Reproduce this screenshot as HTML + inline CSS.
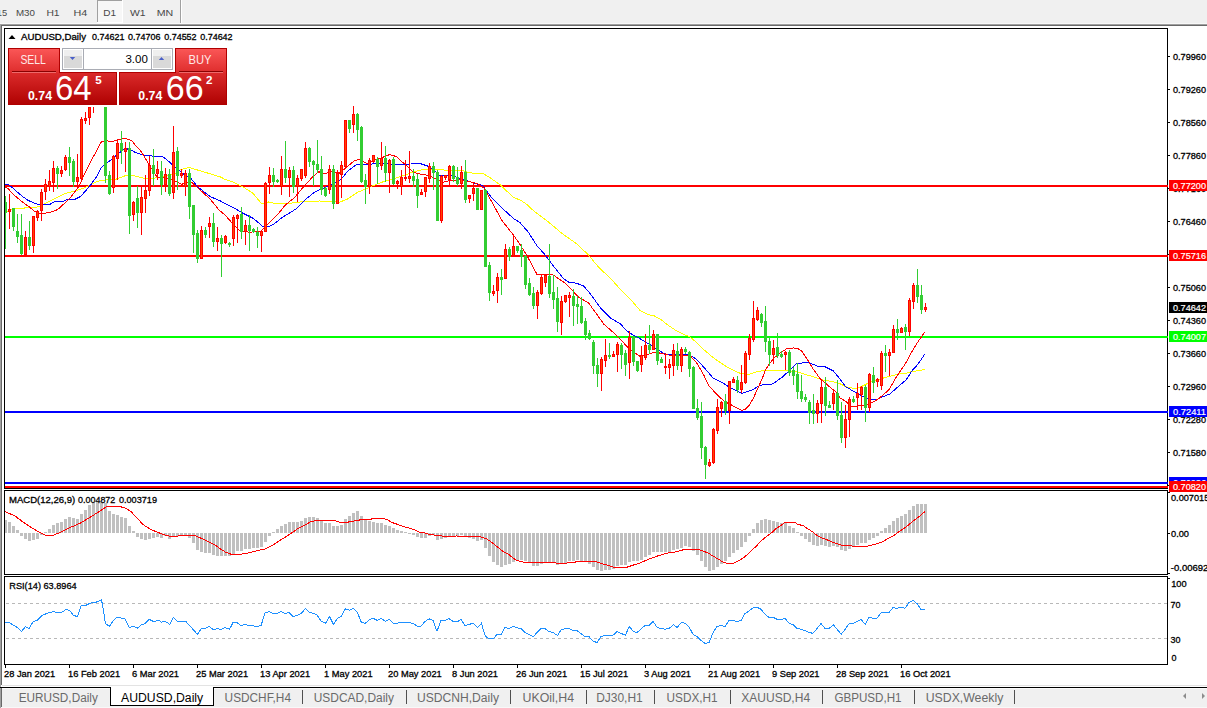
<!DOCTYPE html><html><head><meta charset="utf-8"><title>AUDUSD,Daily</title>
<style>html,body{margin:0;padding:0;width:1207px;height:708px;overflow:hidden;background:#fff}svg{display:block} text{font-family:'Liberation Sans', 'DejaVu Sans', sans-serif;}</style></head><body>
<svg width="1207" height="708" viewBox="0 0 1207 708">
<defs><linearGradient id="gtab" x1="0" y1="0" x2="0" y2="1"><stop offset="0" stop-color="#fa5656"/><stop offset="1" stop-color="#de2c2c"/></linearGradient><linearGradient id="gbox" x1="0" y1="0" x2="0" y2="1"><stop offset="0" stop-color="#da2a2a"/><stop offset="1" stop-color="#b00202"/></linearGradient><linearGradient id="gbtn" x1="0" y1="0" x2="0" y2="1"><stop offset="0" stop-color="#f4f4f4"/><stop offset="0.5" stop-color="#e8e8e8"/><stop offset="0.55" stop-color="#dcdcdc"/><stop offset="1" stop-color="#d4d4d4"/></linearGradient></defs>
<rect x="0" y="0" width="1207" height="23" fill="#f0f0f0"/>
<rect x="0" y="23" width="1207" height="1" fill="#f8f8f8"/>
<rect x="0" y="24" width="1207" height="1" fill="#a0a0a0"/>
<rect x="1" y="25" width="1206" height="1" fill="#696969"/>
<rect x="0" y="24" width="1" height="684" fill="#a0a0a0"/>
<rect x="1" y="25" width="1" height="660" fill="#696969"/>
<rect x="2" y="685" width="1205" height="1" fill="#e3e3e3"/>
<rect x="0" y="687" width="1207" height="1" fill="#000"/>
<rect x="1" y="688" width="1206" height="1" fill="#fbfbfb"/>
<rect x="1" y="689" width="1206" height="18" fill="#f0f0f0"/>
<rect x="1" y="707" width="1206" height="1" fill="#f8f8f8"/>
<rect x="1" y="688" width="1" height="19" fill="#696969"/>
<rect x="97" y="0" width="26" height="23" fill="#f7f7f7"/>
<rect x="97" y="0" width="26" height="1" fill="#a0a0a0"/>
<rect x="97" y="0" width="1" height="22" fill="#a0a0a0"/>
<rect x="122" y="0" width="1" height="23" fill="#ffffff"/>
<rect x="97" y="22" width="26" height="1" fill="#ffffff"/>
<rect x="180" y="0" width="1" height="23" fill="#a0a0a0"/>
<rect x="181" y="0" width="1" height="23" fill="#ffffff"/>
<text x="-3.2" y="16" font-size="9.8" fill="#484848" textLength="10.4" lengthAdjust="spacingAndGlyphs">15</text>
<text x="15.9" y="16" font-size="9.8" fill="#484848" textLength="19" lengthAdjust="spacingAndGlyphs">M30</text>
<text x="46.4" y="16" font-size="9.8" fill="#484848" textLength="13.2" lengthAdjust="spacingAndGlyphs">H1</text>
<text x="73.5" y="16" font-size="9.8" fill="#484848" textLength="13.8" lengthAdjust="spacingAndGlyphs">H4</text>
<text x="103.2" y="16" font-size="9.8" fill="#484848" textLength="12.8" lengthAdjust="spacingAndGlyphs">D1</text>
<text x="130" y="16" font-size="9.8" fill="#484848" textLength="15.6" lengthAdjust="spacingAndGlyphs">W1</text>
<text x="156.7" y="16" font-size="9.8" fill="#484848" textLength="16.5" lengthAdjust="spacingAndGlyphs">MN</text>
<rect x="4" y="28" width="1164" height="1" fill="#000"/>
<rect x="4" y="488" width="1164" height="1" fill="#000"/>
<rect x="4" y="28" width="1" height="461" fill="#000"/>
<rect x="1167" y="28" width="1" height="461" fill="#000"/>
<rect x="4" y="490" width="1164" height="1" fill="#000"/>
<rect x="4" y="574" width="1164" height="1" fill="#000"/>
<rect x="4" y="490" width="1" height="85" fill="#000"/>
<rect x="1167" y="490" width="1" height="85" fill="#000"/>
<rect x="4" y="576" width="1164" height="1" fill="#000"/>
<rect x="4" y="664" width="1164" height="1" fill="#000"/>
<rect x="4" y="576" width="1" height="89" fill="#000"/>
<rect x="1167" y="576" width="1" height="89" fill="#000"/>
<rect x="1168" y="56" width="2" height="1" fill="#000"/>
<text x="1173" y="60" font-size="9.4" fill="#000" textLength="33" lengthAdjust="spacingAndGlyphs" stroke="#000" stroke-width="0.3">0.79960</text>
<rect x="1168" y="89" width="2" height="1" fill="#000"/>
<text x="1173" y="93" font-size="9.4" fill="#000" textLength="33" lengthAdjust="spacingAndGlyphs" stroke="#000" stroke-width="0.3">0.79260</text>
<rect x="1168" y="122" width="2" height="1" fill="#000"/>
<text x="1173" y="126" font-size="9.4" fill="#000" textLength="33" lengthAdjust="spacingAndGlyphs" stroke="#000" stroke-width="0.3">0.78560</text>
<rect x="1168" y="155" width="2" height="1" fill="#000"/>
<text x="1173" y="159" font-size="9.4" fill="#000" textLength="33" lengthAdjust="spacingAndGlyphs" stroke="#000" stroke-width="0.3">0.77860</text>
<rect x="1168" y="188" width="2" height="1" fill="#000"/>
<text x="1173" y="192" font-size="9.4" fill="#000" textLength="33" lengthAdjust="spacingAndGlyphs" stroke="#000" stroke-width="0.3">0.77160</text>
<rect x="1168" y="221" width="2" height="1" fill="#000"/>
<text x="1173" y="225" font-size="9.4" fill="#000" textLength="33" lengthAdjust="spacingAndGlyphs" stroke="#000" stroke-width="0.3">0.76460</text>
<rect x="1168" y="254" width="2" height="1" fill="#000"/>
<text x="1173" y="258" font-size="9.4" fill="#000" textLength="33" lengthAdjust="spacingAndGlyphs" stroke="#000" stroke-width="0.3">0.75760</text>
<rect x="1168" y="287" width="2" height="1" fill="#000"/>
<text x="1173" y="291" font-size="9.4" fill="#000" textLength="33" lengthAdjust="spacingAndGlyphs" stroke="#000" stroke-width="0.3">0.75060</text>
<rect x="1168" y="320" width="2" height="1" fill="#000"/>
<text x="1173" y="324" font-size="9.4" fill="#000" textLength="33" lengthAdjust="spacingAndGlyphs" stroke="#000" stroke-width="0.3">0.74360</text>
<rect x="1168" y="353" width="2" height="1" fill="#000"/>
<text x="1173" y="357" font-size="9.4" fill="#000" textLength="33" lengthAdjust="spacingAndGlyphs" stroke="#000" stroke-width="0.3">0.73660</text>
<rect x="1168" y="386" width="2" height="1" fill="#000"/>
<text x="1173" y="390" font-size="9.4" fill="#000" textLength="33" lengthAdjust="spacingAndGlyphs" stroke="#000" stroke-width="0.3">0.72960</text>
<rect x="1168" y="419" width="2" height="1" fill="#000"/>
<text x="1173" y="423" font-size="9.4" fill="#000" textLength="33" lengthAdjust="spacingAndGlyphs" stroke="#000" stroke-width="0.3">0.72280</text>
<rect x="1168" y="452" width="2" height="1" fill="#000"/>
<text x="1173" y="456" font-size="9.4" fill="#000" textLength="33" lengthAdjust="spacingAndGlyphs" stroke="#000" stroke-width="0.3">0.71580</text>
<rect x="1168" y="485" width="2" height="1" fill="#000"/>
<defs><clipPath id="cmain"><rect x="5" y="29" width="1163" height="459"/></clipPath><clipPath id="cmacd"><rect x="5" y="491" width="1162" height="83"/></clipPath><clipPath id="crsi"><rect x="5" y="577" width="1162" height="87"/></clipPath></defs>
<g clip-path="url(#cmain)">
<rect x="5" y="185" width="1163" height="2" fill="#ff0000"/>
<rect x="5" y="255" width="1163" height="2" fill="#ff0000"/>
<rect x="5" y="336" width="1163" height="2" fill="#00ff00"/>
<rect x="5" y="411" width="1163" height="2" fill="#0000ff"/>
<rect x="5" y="482" width="1163" height="2" fill="#0000ff"/>
<rect x="5" y="486" width="1163" height="2" fill="#ff0000"/>
<g shape-rendering="crispEdges">
<polyline points="6.0,212.4 9.2,210.6 14.1,209.2 19.8,208.2 29.6,207.8 36.7,207.1 40.2,206.0 45.9,203.2 50.8,200.8 55.0,198.4 64.9,193.5 74.8,191.0 82.7,188.5 87.7,186.0 94.6,182.6 100.5,180.6 110.4,179.6 115.0,179.6 125.6,175.6 135.0,176.0 145.0,178.6 160.0,177.7 177.4,172.6 180.0,170.0 188.8,167.4 206.5,172.7 220.6,177.0 225.0,179.4 234.3,182.5 243.6,187.2 253.0,193.4 261.5,203.5 268.5,202.0 275.0,203.5 284.6,204.0 296.0,202.5 307.3,201.2 320.0,201.0 331.2,201.5 339.4,202.3 347.5,199.0 357.2,192.5 365.0,189.3 371.3,186.3 382.6,182.0 394.0,178.6 405.0,175.2 413.5,171.7 423.4,169.5 433.2,169.5 450.0,170.3 462.7,170.6 468.4,172.7 484.0,174.0 491.0,178.4 500.0,184.7 502.0,186.7 514.0,197.7 520.0,199.9 525.6,203.4 534.1,211.2 548.2,221.8 562.4,233.8 576.5,243.7 587.8,254.3 599.1,267.7 610.4,278.3 620.0,288.9 631.2,300.0 640.0,310.5 648.5,314.7 654.1,315.8 661.2,319.7 668.2,325.3 676.7,331.0 682.4,333.8 689.4,336.6 696.5,342.3 705.0,350.7 713.4,357.8 724.7,365.6 733.6,370.4 740.6,373.5 749.2,374.3 757.7,371.6 765.0,370.4 775.0,370.3 787.7,370.5 799.0,372.4 810.3,375.9 825.0,380.8 830.7,381.1 840.0,383.8 846.8,387.2 854.9,388.5 860.2,387.2 866.9,383.8 871.0,381.2 882.8,378.2 895.0,375.0 899.2,373.8 906.0,373.2 912.0,371.5 918.7,370.7 924.7,369.3" fill="none" stroke="#ffff00" stroke-width="1"/>
<polyline points="5.0,184.2 7.8,184.2 12.0,187.3 16.2,191.2 22.6,196.5 28.2,200.4 33.9,202.9 38.1,204.6 43.0,204.6 49.4,204.6 53.6,202.2 55.0,201.4 62.9,201.4 67.9,199.4 74.8,199.4 80.7,196.4 87.7,188.5 91.6,183.6 96.6,176.6 100.5,168.7 104.5,164.8 108.5,161.8 112.4,158.8 117.7,154.0 125.6,148.4 131.5,150.3 135.0,152.3 141.8,154.8 152.0,156.0 162.0,156.0 169.0,161.6 177.4,169.2 184.0,174.3 190.6,178.0 197.7,186.8 210.0,196.5 220.6,201.0 225.0,203.5 234.3,208.0 243.6,213.6 253.0,218.2 262.3,226.0 270.0,226.0 273.2,224.4 283.0,217.0 296.0,209.0 305.7,199.3 313.8,192.8 320.0,189.5 323.0,188.5 331.2,184.4 341.0,179.5 347.5,171.4 357.2,164.0 367.0,165.0 374.0,163.7 388.0,163.7 399.5,165.0 410.6,164.0 419.0,163.2 427.6,166.0 434.7,171.0 440.3,176.0 447.4,175.2 455.0,176.6 461.3,179.0 472.6,182.6 482.5,185.4 491.0,196.7 500.0,206.0 503.7,209.6 514.0,219.0 520.0,222.5 528.5,232.4 537.0,245.8 544.0,253.6 552.5,264.9 563.8,279.0 569.4,282.5 576.5,283.2 583.6,286.0 590.3,293.7 600.5,308.0 610.7,318.3 620.6,324.0 626.3,330.4 633.4,335.3 640.0,338.7 648.5,343.7 657.0,349.3 664.0,353.6 671.0,355.0 682.4,354.5 689.4,355.0 696.5,359.2 703.6,367.0 713.4,378.3 722.0,382.5 727.6,386.0 730.5,387.9 736.7,390.6 741.8,393.3 746.0,392.0 752.3,389.8 758.5,386.3 765.0,384.0 772.0,384.0 775.0,382.3 782.0,377.3 789.0,371.0 796.2,363.9 804.7,362.5 810.3,363.2 817.4,366.0 825.0,366.7 833.4,371.0 840.0,379.0 845.5,386.5 852.2,390.5 860.2,395.2 865.6,397.9 871.0,399.8 876.8,399.8 882.8,396.8 890.2,393.8 897.6,387.2 906.0,380.0 912.0,370.8 916.2,366.2 920.4,360.7 924.7,354.3" fill="none" stroke="#0000ff" stroke-width="1"/>
<polyline points="5.0,186.6 8.5,189.1 14.1,195.1 22.6,202.2 29.6,207.1 34.6,211.3 39.5,213.5 43.8,213.5 49.4,212.4 53.6,211.3 58.0,209.3 69.9,198.4 78.8,186.5 84.7,173.7 91.6,159.8 96.6,150.9 101.5,141.5 106.5,140.5 110.4,142.0 116.0,140.5 124.0,138.0 131.5,140.5 135.0,144.7 141.8,152.3 148.6,164.0 157.0,176.9 169.0,178.6 177.4,182.0 181.6,184.5 185.3,182.4 190.6,181.5 197.7,187.7 210.0,199.0 218.9,209.8 225.0,215.0 231.2,222.0 240.5,231.4 249.8,232.2 260.7,231.4 267.0,225.2 270.0,222.0 278.0,214.0 285.4,205.0 294.4,197.7 304.0,186.3 312.2,177.4 318.7,171.7 324.7,173.9 331.2,171.4 339.4,173.0 347.5,166.6 354.0,160.9 358.8,159.3 367.0,163.7 374.0,160.2 382.6,157.4 389.7,154.5 396.7,156.7 402.4,162.3 405.0,164.0 413.5,172.4 419.0,173.8 427.6,175.2 436.0,178.7 443.0,182.3 448.8,180.8 458.5,179.8 468.4,181.2 478.2,184.0 484.0,188.2 491.9,202.0 502.0,220.6 514.0,235.8 520.0,244.4 527.0,255.7 537.0,274.5 542.6,274.5 552.5,274.5 558.1,278.3 565.2,283.2 570.8,288.9 578.5,297.0 588.6,303.0 595.4,312.4 603.9,324.2 610.7,330.2 618.3,337.0 622.0,341.0 629.0,348.7 636.2,353.7 640.0,356.4 648.5,354.3 654.1,352.1 661.2,353.3 668.2,355.0 682.4,355.3 690.8,356.4 696.5,362.7 703.6,374.7 708.7,385.4 715.5,393.0 719.7,397.2 725.0,401.8 730.5,404.5 736.7,408.0 741.8,410.4 746.0,408.8 750.0,404.2 753.8,397.2 758.5,387.0 763.1,376.2 765.7,369.2 773.5,358.3 780.6,352.6 786.3,349.0 793.4,348.0 797.6,348.4 801.8,351.2 807.5,359.7 813.1,368.8 820.2,378.7 825.4,383.2 830.7,387.8 836.0,391.9 840.0,397.9 845.5,401.2 850.8,406.0 854.9,406.6 860.2,405.7 866.9,404.6 872.5,402.5 878.3,399.0 888.7,390.0 895.0,379.3 899.2,372.5 903.5,366.6 907.7,359.8 912.0,351.4 916.2,344.6 920.4,338.2 924.7,332.3" fill="none" stroke="#ff0000" stroke-width="1"/>
</g>
<g shape-rendering="crispEdges">
<rect x="5" y="196" width="1" height="53" fill="#32cd32"/>
<rect x="4" y="202" width="3" height="11" fill="#32cd32"/>
<rect x="9" y="194" width="1" height="35" fill="#ff0000"/>
<rect x="8" y="209" width="3" height="3" fill="#ff0000"/>
<rect x="9" y="210" width="1" height="1" fill="#ff4500"/>
<rect x="13" y="208" width="1" height="23" fill="#32cd32"/>
<rect x="12" y="208" width="3" height="19" fill="#32cd32"/>
<rect x="17" y="214" width="1" height="29" fill="#32cd32"/>
<rect x="16" y="231" width="3" height="6" fill="#32cd32"/>
<rect x="21" y="214" width="1" height="41" fill="#32cd32"/>
<rect x="20" y="235" width="3" height="19" fill="#32cd32"/>
<rect x="25" y="231" width="1" height="25" fill="#ff0000"/>
<rect x="24" y="237" width="3" height="18" fill="#ff0000"/>
<rect x="25" y="238" width="1" height="16" fill="#ff4500"/>
<rect x="29" y="221" width="1" height="29" fill="#32cd32"/>
<rect x="28" y="237" width="3" height="9" fill="#32cd32"/>
<rect x="33" y="216" width="1" height="37" fill="#ff0000"/>
<rect x="32" y="216" width="3" height="30" fill="#ff0000"/>
<rect x="33" y="217" width="1" height="28" fill="#ff4500"/>
<rect x="37" y="210" width="1" height="11" fill="#ff0000"/>
<rect x="36" y="211" width="3" height="7" fill="#ff0000"/>
<rect x="37" y="212" width="1" height="5" fill="#ff4500"/>
<rect x="41" y="189" width="1" height="32" fill="#ff0000"/>
<rect x="40" y="192" width="3" height="19" fill="#ff0000"/>
<rect x="41" y="193" width="1" height="17" fill="#ff4500"/>
<rect x="45" y="179" width="1" height="21" fill="#ff0000"/>
<rect x="44" y="184" width="3" height="8" fill="#ff0000"/>
<rect x="45" y="185" width="1" height="6" fill="#ff4500"/>
<rect x="49" y="170" width="1" height="21" fill="#ff0000"/>
<rect x="48" y="181" width="3" height="6" fill="#ff0000"/>
<rect x="49" y="182" width="1" height="4" fill="#ff4500"/>
<rect x="53" y="161" width="1" height="31" fill="#ff0000"/>
<rect x="52" y="168" width="3" height="15" fill="#ff0000"/>
<rect x="53" y="169" width="1" height="13" fill="#ff4500"/>
<rect x="57" y="166" width="1" height="23" fill="#32cd32"/>
<rect x="56" y="168" width="3" height="6" fill="#32cd32"/>
<rect x="61" y="166" width="1" height="11" fill="#ff0000"/>
<rect x="60" y="170" width="3" height="4" fill="#ff0000"/>
<rect x="61" y="171" width="1" height="2" fill="#ff4500"/>
<rect x="65" y="155" width="1" height="16" fill="#ff0000"/>
<rect x="64" y="157" width="3" height="13" fill="#ff0000"/>
<rect x="65" y="158" width="1" height="11" fill="#ff4500"/>
<rect x="69" y="147" width="1" height="29" fill="#32cd32"/>
<rect x="68" y="157" width="3" height="6" fill="#32cd32"/>
<rect x="73" y="159" width="1" height="28" fill="#32cd32"/>
<rect x="72" y="161" width="3" height="21" fill="#32cd32"/>
<rect x="77" y="154" width="1" height="33" fill="#ff0000"/>
<rect x="76" y="177" width="3" height="5" fill="#ff0000"/>
<rect x="77" y="178" width="1" height="3" fill="#ff4500"/>
<rect x="81" y="117" width="1" height="63" fill="#ff0000"/>
<rect x="80" y="119" width="3" height="60" fill="#ff0000"/>
<rect x="81" y="120" width="1" height="58" fill="#ff4500"/>
<rect x="85" y="112" width="1" height="12" fill="#ff0000"/>
<rect x="84" y="118" width="3" height="3" fill="#ff0000"/>
<rect x="85" y="119" width="1" height="1" fill="#ff4500"/>
<rect x="89" y="107" width="1" height="18" fill="#ff0000"/>
<rect x="88" y="107" width="3" height="11" fill="#ff0000"/>
<rect x="89" y="108" width="1" height="9" fill="#ff4500"/>
<rect x="93" y="90" width="1" height="23" fill="#ff0000"/>
<rect x="92" y="92" width="3" height="13" fill="#ff0000"/>
<rect x="93" y="93" width="1" height="11" fill="#ff4500"/>
<rect x="97" y="80" width="1" height="21" fill="#ff0000"/>
<rect x="96" y="84" width="3" height="15" fill="#ff0000"/>
<rect x="97" y="85" width="1" height="13" fill="#ff4500"/>
<rect x="101" y="78" width="1" height="23" fill="#32cd32"/>
<rect x="100" y="80" width="3" height="17" fill="#32cd32"/>
<rect x="105" y="90" width="1" height="93" fill="#32cd32"/>
<rect x="104" y="92" width="3" height="84" fill="#32cd32"/>
<rect x="109" y="171" width="1" height="24" fill="#32cd32"/>
<rect x="108" y="175" width="3" height="19" fill="#32cd32"/>
<rect x="113" y="155" width="1" height="38" fill="#ff0000"/>
<rect x="112" y="156" width="3" height="32" fill="#ff0000"/>
<rect x="113" y="157" width="1" height="30" fill="#ff4500"/>
<rect x="117" y="141" width="1" height="39" fill="#ff0000"/>
<rect x="116" y="143" width="3" height="16" fill="#ff0000"/>
<rect x="117" y="144" width="1" height="14" fill="#ff4500"/>
<rect x="121" y="131" width="1" height="33" fill="#32cd32"/>
<rect x="120" y="143" width="3" height="8" fill="#32cd32"/>
<rect x="125" y="142" width="1" height="30" fill="#ff0000"/>
<rect x="124" y="148" width="3" height="4" fill="#ff0000"/>
<rect x="125" y="149" width="1" height="2" fill="#ff4500"/>
<rect x="129" y="142" width="1" height="92" fill="#32cd32"/>
<rect x="128" y="148" width="3" height="68" fill="#32cd32"/>
<rect x="133" y="201" width="1" height="20" fill="#ff0000"/>
<rect x="132" y="202" width="3" height="13" fill="#ff0000"/>
<rect x="133" y="203" width="1" height="11" fill="#ff4500"/>
<rect x="137" y="186" width="1" height="42" fill="#32cd32"/>
<rect x="136" y="198" width="3" height="15" fill="#32cd32"/>
<rect x="141" y="187" width="1" height="48" fill="#ff0000"/>
<rect x="140" y="197" width="3" height="16" fill="#ff0000"/>
<rect x="141" y="198" width="1" height="14" fill="#ff4500"/>
<rect x="145" y="175" width="1" height="38" fill="#ff0000"/>
<rect x="144" y="190" width="3" height="9" fill="#ff0000"/>
<rect x="145" y="191" width="1" height="7" fill="#ff4500"/>
<rect x="149" y="156" width="1" height="40" fill="#ff0000"/>
<rect x="148" y="165" width="3" height="26" fill="#ff0000"/>
<rect x="149" y="166" width="1" height="24" fill="#ff4500"/>
<rect x="153" y="149" width="1" height="37" fill="#32cd32"/>
<rect x="152" y="165" width="3" height="9" fill="#32cd32"/>
<rect x="157" y="161" width="1" height="19" fill="#ff0000"/>
<rect x="156" y="169" width="3" height="5" fill="#ff0000"/>
<rect x="157" y="170" width="1" height="3" fill="#ff4500"/>
<rect x="161" y="161" width="1" height="34" fill="#32cd32"/>
<rect x="160" y="171" width="3" height="14" fill="#32cd32"/>
<rect x="165" y="168" width="1" height="24" fill="#ff0000"/>
<rect x="164" y="174" width="3" height="11" fill="#ff0000"/>
<rect x="165" y="175" width="1" height="9" fill="#ff4500"/>
<rect x="169" y="169" width="1" height="27" fill="#32cd32"/>
<rect x="168" y="174" width="3" height="20" fill="#32cd32"/>
<rect x="173" y="126" width="1" height="73" fill="#ff0000"/>
<rect x="172" y="152" width="3" height="41" fill="#ff0000"/>
<rect x="173" y="153" width="1" height="39" fill="#ff4500"/>
<rect x="177" y="147" width="1" height="43" fill="#32cd32"/>
<rect x="176" y="151" width="3" height="25" fill="#32cd32"/>
<rect x="181" y="169" width="1" height="9" fill="#ff0000"/>
<rect x="180" y="173" width="3" height="3" fill="#ff0000"/>
<rect x="181" y="174" width="1" height="1" fill="#ff4500"/>
<rect x="185" y="170" width="1" height="26" fill="#ff0000"/>
<rect x="184" y="173" width="3" height="14" fill="#ff0000"/>
<rect x="185" y="174" width="1" height="12" fill="#ff4500"/>
<rect x="189" y="169" width="1" height="50" fill="#32cd32"/>
<rect x="188" y="173" width="3" height="34" fill="#32cd32"/>
<rect x="193" y="205" width="1" height="48" fill="#32cd32"/>
<rect x="192" y="205" width="3" height="30" fill="#32cd32"/>
<rect x="197" y="230" width="1" height="33" fill="#32cd32"/>
<rect x="196" y="233" width="3" height="26" fill="#32cd32"/>
<rect x="201" y="226" width="1" height="33" fill="#ff0000"/>
<rect x="200" y="230" width="3" height="29" fill="#ff0000"/>
<rect x="201" y="231" width="1" height="27" fill="#ff4500"/>
<rect x="205" y="227" width="1" height="11" fill="#32cd32"/>
<rect x="204" y="230" width="3" height="5" fill="#32cd32"/>
<rect x="209" y="217" width="1" height="21" fill="#ff0000"/>
<rect x="208" y="223" width="3" height="4" fill="#ff0000"/>
<rect x="209" y="224" width="1" height="2" fill="#ff4500"/>
<rect x="213" y="213" width="1" height="34" fill="#32cd32"/>
<rect x="212" y="223" width="3" height="19" fill="#32cd32"/>
<rect x="217" y="227" width="1" height="24" fill="#ff0000"/>
<rect x="216" y="238" width="3" height="4" fill="#ff0000"/>
<rect x="217" y="239" width="1" height="2" fill="#ff4500"/>
<rect x="221" y="235" width="1" height="42" fill="#32cd32"/>
<rect x="220" y="238" width="3" height="6" fill="#32cd32"/>
<rect x="225" y="235" width="1" height="9" fill="#ff0000"/>
<rect x="224" y="236" width="3" height="7" fill="#ff0000"/>
<rect x="225" y="237" width="1" height="5" fill="#ff4500"/>
<rect x="229" y="242" width="1" height="5" fill="#32cd32"/>
<rect x="228" y="243" width="3" height="2" fill="#32cd32"/>
<rect x="233" y="215" width="1" height="31" fill="#ff0000"/>
<rect x="232" y="217" width="3" height="22" fill="#ff0000"/>
<rect x="233" y="218" width="1" height="20" fill="#ff4500"/>
<rect x="237" y="214" width="1" height="29" fill="#ff0000"/>
<rect x="236" y="215" width="3" height="4" fill="#ff0000"/>
<rect x="237" y="216" width="1" height="2" fill="#ff4500"/>
<rect x="241" y="207" width="1" height="32" fill="#32cd32"/>
<rect x="240" y="214" width="3" height="18" fill="#32cd32"/>
<rect x="245" y="220" width="1" height="25" fill="#ff0000"/>
<rect x="244" y="225" width="3" height="7" fill="#ff0000"/>
<rect x="245" y="226" width="1" height="5" fill="#ff4500"/>
<rect x="249" y="215" width="1" height="36" fill="#32cd32"/>
<rect x="248" y="225" width="3" height="6" fill="#32cd32"/>
<rect x="253" y="228" width="1" height="5" fill="#32cd32"/>
<rect x="252" y="229" width="3" height="3" fill="#32cd32"/>
<rect x="257" y="227" width="1" height="21" fill="#32cd32"/>
<rect x="256" y="232" width="3" height="4" fill="#32cd32"/>
<rect x="261" y="230" width="1" height="22" fill="#ff0000"/>
<rect x="260" y="231" width="3" height="5" fill="#ff0000"/>
<rect x="261" y="232" width="1" height="3" fill="#ff4500"/>
<rect x="265" y="182" width="1" height="50" fill="#ff0000"/>
<rect x="264" y="183" width="3" height="49" fill="#ff0000"/>
<rect x="265" y="184" width="1" height="47" fill="#ff4500"/>
<rect x="269" y="167" width="1" height="27" fill="#ff0000"/>
<rect x="268" y="175" width="3" height="8" fill="#ff0000"/>
<rect x="269" y="176" width="1" height="6" fill="#ff4500"/>
<rect x="273" y="168" width="1" height="19" fill="#32cd32"/>
<rect x="272" y="175" width="3" height="7" fill="#32cd32"/>
<rect x="277" y="179" width="1" height="4" fill="#32cd32"/>
<rect x="276" y="180" width="3" height="2" fill="#32cd32"/>
<rect x="281" y="156" width="1" height="39" fill="#ff0000"/>
<rect x="280" y="169" width="3" height="18" fill="#ff0000"/>
<rect x="281" y="170" width="1" height="16" fill="#ff4500"/>
<rect x="285" y="141" width="1" height="42" fill="#32cd32"/>
<rect x="284" y="169" width="3" height="9" fill="#32cd32"/>
<rect x="289" y="167" width="1" height="30" fill="#ff0000"/>
<rect x="288" y="170" width="3" height="8" fill="#ff0000"/>
<rect x="289" y="171" width="1" height="6" fill="#ff4500"/>
<rect x="293" y="166" width="1" height="27" fill="#32cd32"/>
<rect x="292" y="170" width="3" height="17" fill="#32cd32"/>
<rect x="297" y="175" width="1" height="27" fill="#ff0000"/>
<rect x="296" y="178" width="3" height="9" fill="#ff0000"/>
<rect x="297" y="179" width="1" height="7" fill="#ff4500"/>
<rect x="301" y="169" width="1" height="12" fill="#ff0000"/>
<rect x="300" y="169" width="3" height="10" fill="#ff0000"/>
<rect x="301" y="170" width="1" height="8" fill="#ff4500"/>
<rect x="305" y="142" width="1" height="36" fill="#ff0000"/>
<rect x="304" y="148" width="3" height="28" fill="#ff0000"/>
<rect x="305" y="149" width="1" height="26" fill="#ff4500"/>
<rect x="309" y="147" width="1" height="20" fill="#32cd32"/>
<rect x="308" y="148" width="3" height="14" fill="#32cd32"/>
<rect x="313" y="160" width="1" height="26" fill="#32cd32"/>
<rect x="312" y="161" width="3" height="4" fill="#32cd32"/>
<rect x="317" y="140" width="1" height="33" fill="#32cd32"/>
<rect x="316" y="164" width="3" height="6" fill="#32cd32"/>
<rect x="321" y="156" width="1" height="39" fill="#32cd32"/>
<rect x="320" y="169" width="3" height="21" fill="#32cd32"/>
<rect x="325" y="187" width="1" height="10" fill="#32cd32"/>
<rect x="324" y="188" width="3" height="8" fill="#32cd32"/>
<rect x="329" y="165" width="1" height="29" fill="#ff0000"/>
<rect x="328" y="169" width="3" height="21" fill="#ff0000"/>
<rect x="329" y="170" width="1" height="19" fill="#ff4500"/>
<rect x="333" y="165" width="1" height="44" fill="#32cd32"/>
<rect x="332" y="169" width="3" height="35" fill="#32cd32"/>
<rect x="337" y="170" width="1" height="34" fill="#ff0000"/>
<rect x="336" y="173" width="3" height="31" fill="#ff0000"/>
<rect x="337" y="174" width="1" height="29" fill="#ff4500"/>
<rect x="341" y="161" width="1" height="37" fill="#ff0000"/>
<rect x="340" y="165" width="3" height="10" fill="#ff0000"/>
<rect x="341" y="166" width="1" height="8" fill="#ff4500"/>
<rect x="345" y="120" width="1" height="48" fill="#ff0000"/>
<rect x="344" y="120" width="3" height="47" fill="#ff0000"/>
<rect x="345" y="121" width="1" height="45" fill="#ff4500"/>
<rect x="349" y="120" width="1" height="13" fill="#32cd32"/>
<rect x="348" y="120" width="3" height="9" fill="#32cd32"/>
<rect x="353" y="106" width="1" height="27" fill="#ff0000"/>
<rect x="352" y="114" width="3" height="11" fill="#ff0000"/>
<rect x="353" y="115" width="1" height="9" fill="#ff4500"/>
<rect x="357" y="113" width="1" height="28" fill="#32cd32"/>
<rect x="356" y="114" width="3" height="16" fill="#32cd32"/>
<rect x="361" y="126" width="1" height="57" fill="#32cd32"/>
<rect x="360" y="127" width="3" height="55" fill="#32cd32"/>
<rect x="365" y="174" width="1" height="30" fill="#32cd32"/>
<rect x="364" y="180" width="3" height="7" fill="#32cd32"/>
<rect x="369" y="158" width="1" height="36" fill="#ff0000"/>
<rect x="368" y="160" width="3" height="27" fill="#ff0000"/>
<rect x="369" y="161" width="1" height="25" fill="#ff4500"/>
<rect x="373" y="155" width="1" height="8" fill="#ff0000"/>
<rect x="372" y="155" width="3" height="7" fill="#ff0000"/>
<rect x="373" y="156" width="1" height="5" fill="#ff4500"/>
<rect x="377" y="157" width="1" height="27" fill="#32cd32"/>
<rect x="376" y="159" width="3" height="8" fill="#32cd32"/>
<rect x="381" y="142" width="1" height="28" fill="#ff0000"/>
<rect x="380" y="158" width="3" height="8" fill="#ff0000"/>
<rect x="381" y="159" width="1" height="6" fill="#ff4500"/>
<rect x="385" y="146" width="1" height="36" fill="#32cd32"/>
<rect x="384" y="158" width="3" height="15" fill="#32cd32"/>
<rect x="389" y="159" width="1" height="34" fill="#ff0000"/>
<rect x="388" y="160" width="3" height="13" fill="#ff0000"/>
<rect x="389" y="161" width="1" height="11" fill="#ff4500"/>
<rect x="393" y="157" width="1" height="28" fill="#32cd32"/>
<rect x="392" y="159" width="3" height="25" fill="#32cd32"/>
<rect x="397" y="180" width="1" height="9" fill="#ff0000"/>
<rect x="396" y="181" width="3" height="3" fill="#ff0000"/>
<rect x="397" y="182" width="1" height="1" fill="#ff4500"/>
<rect x="401" y="170" width="1" height="25" fill="#ff0000"/>
<rect x="400" y="177" width="3" height="10" fill="#ff0000"/>
<rect x="401" y="178" width="1" height="8" fill="#ff4500"/>
<rect x="405" y="160" width="1" height="21" fill="#ff0000"/>
<rect x="404" y="177" width="3" height="2" fill="#ff0000"/>
<rect x="409" y="151" width="1" height="32" fill="#ff0000"/>
<rect x="408" y="176" width="3" height="3" fill="#ff0000"/>
<rect x="409" y="177" width="1" height="1" fill="#ff4500"/>
<rect x="413" y="169" width="1" height="18" fill="#32cd32"/>
<rect x="412" y="176" width="3" height="5" fill="#32cd32"/>
<rect x="417" y="174" width="1" height="34" fill="#32cd32"/>
<rect x="416" y="179" width="3" height="17" fill="#32cd32"/>
<rect x="421" y="189" width="1" height="6" fill="#ff0000"/>
<rect x="420" y="192" width="3" height="3" fill="#ff0000"/>
<rect x="421" y="193" width="1" height="1" fill="#ff4500"/>
<rect x="425" y="177" width="1" height="20" fill="#ff0000"/>
<rect x="424" y="177" width="3" height="15" fill="#ff0000"/>
<rect x="425" y="178" width="1" height="13" fill="#ff4500"/>
<rect x="429" y="163" width="1" height="20" fill="#ff0000"/>
<rect x="428" y="166" width="3" height="13" fill="#ff0000"/>
<rect x="429" y="167" width="1" height="11" fill="#ff4500"/>
<rect x="433" y="162" width="1" height="28" fill="#32cd32"/>
<rect x="432" y="166" width="3" height="7" fill="#32cd32"/>
<rect x="437" y="170" width="1" height="51" fill="#32cd32"/>
<rect x="436" y="172" width="3" height="49" fill="#32cd32"/>
<rect x="441" y="175" width="1" height="48" fill="#ff0000"/>
<rect x="440" y="176" width="3" height="45" fill="#ff0000"/>
<rect x="441" y="177" width="1" height="43" fill="#ff4500"/>
<rect x="445" y="175" width="1" height="5" fill="#ff0000"/>
<rect x="444" y="175" width="3" height="3" fill="#ff0000"/>
<rect x="445" y="176" width="1" height="1" fill="#ff4500"/>
<rect x="449" y="165" width="1" height="20" fill="#ff0000"/>
<rect x="448" y="166" width="3" height="14" fill="#ff0000"/>
<rect x="449" y="167" width="1" height="12" fill="#ff4500"/>
<rect x="453" y="165" width="1" height="17" fill="#32cd32"/>
<rect x="452" y="166" width="3" height="13" fill="#32cd32"/>
<rect x="457" y="167" width="1" height="19" fill="#32cd32"/>
<rect x="456" y="177" width="3" height="7" fill="#32cd32"/>
<rect x="461" y="166" width="1" height="23" fill="#ff0000"/>
<rect x="460" y="172" width="3" height="12" fill="#ff0000"/>
<rect x="461" y="173" width="1" height="10" fill="#ff4500"/>
<rect x="465" y="160" width="1" height="43" fill="#32cd32"/>
<rect x="464" y="172" width="3" height="28" fill="#32cd32"/>
<rect x="469" y="195" width="1" height="8" fill="#ff0000"/>
<rect x="468" y="195" width="3" height="4" fill="#ff0000"/>
<rect x="469" y="196" width="1" height="2" fill="#ff4500"/>
<rect x="473" y="183" width="1" height="18" fill="#ff0000"/>
<rect x="472" y="188" width="3" height="6" fill="#ff0000"/>
<rect x="473" y="189" width="1" height="4" fill="#ff4500"/>
<rect x="477" y="188" width="1" height="22" fill="#32cd32"/>
<rect x="476" y="188" width="3" height="22" fill="#32cd32"/>
<rect x="481" y="190" width="1" height="20" fill="#ff0000"/>
<rect x="480" y="190" width="3" height="20" fill="#ff0000"/>
<rect x="481" y="191" width="1" height="18" fill="#ff4500"/>
<rect x="485" y="189" width="1" height="78" fill="#32cd32"/>
<rect x="484" y="190" width="3" height="77" fill="#32cd32"/>
<rect x="489" y="262" width="1" height="39" fill="#32cd32"/>
<rect x="488" y="265" width="3" height="28" fill="#32cd32"/>
<rect x="493" y="285" width="1" height="11" fill="#ff0000"/>
<rect x="492" y="291" width="3" height="3" fill="#ff0000"/>
<rect x="493" y="292" width="1" height="1" fill="#ff4500"/>
<rect x="497" y="273" width="1" height="30" fill="#ff0000"/>
<rect x="496" y="277" width="3" height="14" fill="#ff0000"/>
<rect x="497" y="278" width="1" height="12" fill="#ff4500"/>
<rect x="501" y="269" width="1" height="26" fill="#32cd32"/>
<rect x="500" y="277" width="3" height="3" fill="#32cd32"/>
<rect x="505" y="244" width="1" height="35" fill="#ff0000"/>
<rect x="504" y="249" width="3" height="30" fill="#ff0000"/>
<rect x="505" y="250" width="1" height="28" fill="#ff4500"/>
<rect x="509" y="247" width="1" height="14" fill="#32cd32"/>
<rect x="508" y="249" width="3" height="8" fill="#32cd32"/>
<rect x="513" y="236" width="1" height="21" fill="#ff0000"/>
<rect x="512" y="246" width="3" height="10" fill="#ff0000"/>
<rect x="513" y="247" width="1" height="8" fill="#ff4500"/>
<rect x="517" y="246" width="1" height="7" fill="#32cd32"/>
<rect x="516" y="246" width="3" height="5" fill="#32cd32"/>
<rect x="521" y="244" width="1" height="23" fill="#32cd32"/>
<rect x="520" y="250" width="3" height="7" fill="#32cd32"/>
<rect x="525" y="255" width="1" height="34" fill="#32cd32"/>
<rect x="524" y="256" width="3" height="29" fill="#32cd32"/>
<rect x="529" y="278" width="1" height="18" fill="#32cd32"/>
<rect x="528" y="283" width="3" height="12" fill="#32cd32"/>
<rect x="533" y="287" width="1" height="22" fill="#32cd32"/>
<rect x="532" y="293" width="3" height="13" fill="#32cd32"/>
<rect x="537" y="290" width="1" height="29" fill="#ff0000"/>
<rect x="536" y="292" width="3" height="14" fill="#ff0000"/>
<rect x="537" y="293" width="1" height="12" fill="#ff4500"/>
<rect x="541" y="275" width="1" height="20" fill="#ff0000"/>
<rect x="540" y="277" width="3" height="17" fill="#ff0000"/>
<rect x="541" y="278" width="1" height="15" fill="#ff4500"/>
<rect x="545" y="274" width="1" height="13" fill="#ff0000"/>
<rect x="544" y="275" width="3" height="8" fill="#ff0000"/>
<rect x="545" y="276" width="1" height="6" fill="#ff4500"/>
<rect x="549" y="244" width="1" height="54" fill="#32cd32"/>
<rect x="548" y="276" width="3" height="18" fill="#32cd32"/>
<rect x="553" y="275" width="1" height="34" fill="#32cd32"/>
<rect x="552" y="292" width="3" height="8" fill="#32cd32"/>
<rect x="557" y="287" width="1" height="45" fill="#32cd32"/>
<rect x="556" y="298" width="3" height="24" fill="#32cd32"/>
<rect x="561" y="296" width="1" height="39" fill="#ff0000"/>
<rect x="560" y="301" width="3" height="22" fill="#ff0000"/>
<rect x="561" y="302" width="1" height="20" fill="#ff4500"/>
<rect x="565" y="295" width="1" height="8" fill="#ff0000"/>
<rect x="564" y="295" width="3" height="7" fill="#ff0000"/>
<rect x="565" y="296" width="1" height="5" fill="#ff4500"/>
<rect x="569" y="292" width="1" height="25" fill="#ff0000"/>
<rect x="568" y="295" width="3" height="3" fill="#ff0000"/>
<rect x="569" y="296" width="1" height="1" fill="#ff4500"/>
<rect x="573" y="289" width="1" height="37" fill="#32cd32"/>
<rect x="572" y="296" width="3" height="10" fill="#32cd32"/>
<rect x="577" y="296" width="1" height="28" fill="#32cd32"/>
<rect x="576" y="304" width="3" height="3" fill="#32cd32"/>
<rect x="581" y="297" width="1" height="27" fill="#32cd32"/>
<rect x="580" y="306" width="3" height="17" fill="#32cd32"/>
<rect x="585" y="318" width="1" height="22" fill="#32cd32"/>
<rect x="584" y="321" width="3" height="14" fill="#32cd32"/>
<rect x="589" y="330" width="1" height="10" fill="#32cd32"/>
<rect x="588" y="333" width="3" height="6" fill="#32cd32"/>
<rect x="593" y="340" width="1" height="34" fill="#32cd32"/>
<rect x="592" y="342" width="3" height="24" fill="#32cd32"/>
<rect x="597" y="358" width="1" height="29" fill="#32cd32"/>
<rect x="596" y="365" width="3" height="9" fill="#32cd32"/>
<rect x="601" y="357" width="1" height="34" fill="#ff0000"/>
<rect x="600" y="359" width="3" height="15" fill="#ff0000"/>
<rect x="601" y="360" width="1" height="13" fill="#ff4500"/>
<rect x="605" y="339" width="1" height="28" fill="#ff0000"/>
<rect x="604" y="355" width="3" height="6" fill="#ff0000"/>
<rect x="605" y="356" width="1" height="4" fill="#ff4500"/>
<rect x="609" y="343" width="1" height="16" fill="#32cd32"/>
<rect x="608" y="355" width="3" height="2" fill="#32cd32"/>
<rect x="613" y="351" width="1" height="6" fill="#ff0000"/>
<rect x="612" y="354" width="3" height="3" fill="#ff0000"/>
<rect x="613" y="355" width="1" height="1" fill="#ff4500"/>
<rect x="617" y="342" width="1" height="30" fill="#ff0000"/>
<rect x="616" y="344" width="3" height="11" fill="#ff0000"/>
<rect x="617" y="345" width="1" height="9" fill="#ff4500"/>
<rect x="621" y="343" width="1" height="26" fill="#32cd32"/>
<rect x="620" y="345" width="3" height="10" fill="#32cd32"/>
<rect x="625" y="350" width="1" height="26" fill="#32cd32"/>
<rect x="624" y="353" width="3" height="12" fill="#32cd32"/>
<rect x="629" y="331" width="1" height="48" fill="#ff0000"/>
<rect x="628" y="337" width="3" height="26" fill="#ff0000"/>
<rect x="629" y="338" width="1" height="24" fill="#ff4500"/>
<rect x="633" y="336" width="1" height="30" fill="#32cd32"/>
<rect x="632" y="337" width="3" height="25" fill="#32cd32"/>
<rect x="637" y="361" width="1" height="11" fill="#32cd32"/>
<rect x="636" y="361" width="3" height="10" fill="#32cd32"/>
<rect x="641" y="346" width="1" height="26" fill="#ff0000"/>
<rect x="640" y="355" width="3" height="10" fill="#ff0000"/>
<rect x="641" y="356" width="1" height="8" fill="#ff4500"/>
<rect x="645" y="334" width="1" height="26" fill="#ff0000"/>
<rect x="644" y="345" width="3" height="13" fill="#ff0000"/>
<rect x="645" y="346" width="1" height="11" fill="#ff4500"/>
<rect x="649" y="325" width="1" height="29" fill="#32cd32"/>
<rect x="648" y="345" width="3" height="5" fill="#32cd32"/>
<rect x="653" y="330" width="1" height="20" fill="#ff0000"/>
<rect x="652" y="334" width="3" height="16" fill="#ff0000"/>
<rect x="653" y="335" width="1" height="14" fill="#ff4500"/>
<rect x="657" y="334" width="1" height="31" fill="#32cd32"/>
<rect x="656" y="334" width="3" height="27" fill="#32cd32"/>
<rect x="661" y="357" width="1" height="6" fill="#32cd32"/>
<rect x="660" y="359" width="3" height="4" fill="#32cd32"/>
<rect x="665" y="353" width="1" height="21" fill="#ff0000"/>
<rect x="664" y="366" width="3" height="2" fill="#ff0000"/>
<rect x="669" y="359" width="1" height="20" fill="#ff0000"/>
<rect x="668" y="364" width="3" height="4" fill="#ff0000"/>
<rect x="669" y="365" width="1" height="2" fill="#ff4500"/>
<rect x="673" y="344" width="1" height="32" fill="#ff0000"/>
<rect x="672" y="350" width="3" height="16" fill="#ff0000"/>
<rect x="673" y="351" width="1" height="14" fill="#ff4500"/>
<rect x="677" y="343" width="1" height="27" fill="#32cd32"/>
<rect x="676" y="351" width="3" height="15" fill="#32cd32"/>
<rect x="681" y="347" width="1" height="25" fill="#ff0000"/>
<rect x="680" y="349" width="3" height="17" fill="#ff0000"/>
<rect x="681" y="350" width="1" height="15" fill="#ff4500"/>
<rect x="685" y="347" width="1" height="7" fill="#32cd32"/>
<rect x="684" y="349" width="3" height="3" fill="#32cd32"/>
<rect x="689" y="351" width="1" height="26" fill="#32cd32"/>
<rect x="688" y="352" width="3" height="17" fill="#32cd32"/>
<rect x="693" y="366" width="1" height="43" fill="#32cd32"/>
<rect x="692" y="367" width="3" height="42" fill="#32cd32"/>
<rect x="697" y="399" width="1" height="21" fill="#32cd32"/>
<rect x="696" y="408" width="3" height="10" fill="#32cd32"/>
<rect x="701" y="402" width="1" height="57" fill="#32cd32"/>
<rect x="700" y="416" width="3" height="32" fill="#32cd32"/>
<rect x="705" y="446" width="1" height="33" fill="#32cd32"/>
<rect x="704" y="447" width="3" height="18" fill="#32cd32"/>
<rect x="709" y="459" width="1" height="8" fill="#ff0000"/>
<rect x="708" y="462" width="3" height="4" fill="#ff0000"/>
<rect x="709" y="463" width="1" height="2" fill="#ff4500"/>
<rect x="713" y="428" width="1" height="36" fill="#ff0000"/>
<rect x="712" y="429" width="3" height="34" fill="#ff0000"/>
<rect x="713" y="430" width="1" height="32" fill="#ff4500"/>
<rect x="717" y="399" width="1" height="35" fill="#ff0000"/>
<rect x="716" y="407" width="3" height="24" fill="#ff0000"/>
<rect x="717" y="408" width="1" height="22" fill="#ff4500"/>
<rect x="721" y="401" width="1" height="16" fill="#ff0000"/>
<rect x="720" y="402" width="3" height="7" fill="#ff0000"/>
<rect x="721" y="403" width="1" height="5" fill="#ff4500"/>
<rect x="725" y="394" width="1" height="21" fill="#32cd32"/>
<rect x="724" y="401" width="3" height="10" fill="#32cd32"/>
<rect x="729" y="381" width="1" height="43" fill="#ff0000"/>
<rect x="728" y="381" width="3" height="30" fill="#ff0000"/>
<rect x="729" y="382" width="1" height="28" fill="#ff4500"/>
<rect x="733" y="377" width="1" height="6" fill="#ff0000"/>
<rect x="732" y="379" width="3" height="4" fill="#ff0000"/>
<rect x="733" y="380" width="1" height="2" fill="#ff4500"/>
<rect x="737" y="376" width="1" height="17" fill="#32cd32"/>
<rect x="736" y="380" width="3" height="10" fill="#32cd32"/>
<rect x="741" y="365" width="1" height="28" fill="#ff0000"/>
<rect x="740" y="382" width="3" height="8" fill="#ff0000"/>
<rect x="741" y="383" width="1" height="6" fill="#ff4500"/>
<rect x="745" y="351" width="1" height="33" fill="#ff0000"/>
<rect x="744" y="353" width="3" height="30" fill="#ff0000"/>
<rect x="745" y="354" width="1" height="28" fill="#ff4500"/>
<rect x="749" y="334" width="1" height="26" fill="#ff0000"/>
<rect x="748" y="338" width="3" height="17" fill="#ff0000"/>
<rect x="749" y="339" width="1" height="15" fill="#ff4500"/>
<rect x="753" y="301" width="1" height="41" fill="#ff0000"/>
<rect x="752" y="318" width="3" height="22" fill="#ff0000"/>
<rect x="753" y="319" width="1" height="20" fill="#ff4500"/>
<rect x="757" y="307" width="1" height="14" fill="#ff0000"/>
<rect x="756" y="310" width="3" height="10" fill="#ff0000"/>
<rect x="757" y="311" width="1" height="8" fill="#ff4500"/>
<rect x="761" y="313" width="1" height="14" fill="#32cd32"/>
<rect x="760" y="314" width="3" height="9" fill="#32cd32"/>
<rect x="765" y="306" width="1" height="46" fill="#32cd32"/>
<rect x="764" y="321" width="3" height="21" fill="#32cd32"/>
<rect x="769" y="337" width="1" height="29" fill="#32cd32"/>
<rect x="768" y="341" width="3" height="14" fill="#32cd32"/>
<rect x="773" y="340" width="1" height="24" fill="#ff0000"/>
<rect x="772" y="348" width="3" height="7" fill="#ff0000"/>
<rect x="773" y="349" width="1" height="5" fill="#ff4500"/>
<rect x="777" y="333" width="1" height="25" fill="#32cd32"/>
<rect x="776" y="347" width="3" height="9" fill="#32cd32"/>
<rect x="781" y="351" width="1" height="7" fill="#32cd32"/>
<rect x="780" y="354" width="3" height="3" fill="#32cd32"/>
<rect x="785" y="351" width="1" height="19" fill="#ff0000"/>
<rect x="784" y="352" width="3" height="3" fill="#ff0000"/>
<rect x="785" y="353" width="1" height="1" fill="#ff4500"/>
<rect x="789" y="350" width="1" height="26" fill="#32cd32"/>
<rect x="788" y="352" width="3" height="21" fill="#32cd32"/>
<rect x="793" y="367" width="1" height="18" fill="#32cd32"/>
<rect x="792" y="370" width="3" height="6" fill="#32cd32"/>
<rect x="797" y="363" width="1" height="36" fill="#32cd32"/>
<rect x="796" y="374" width="3" height="18" fill="#32cd32"/>
<rect x="801" y="375" width="1" height="27" fill="#32cd32"/>
<rect x="800" y="391" width="3" height="8" fill="#32cd32"/>
<rect x="805" y="394" width="1" height="8" fill="#32cd32"/>
<rect x="804" y="397" width="3" height="3" fill="#32cd32"/>
<rect x="809" y="400" width="1" height="24" fill="#32cd32"/>
<rect x="808" y="402" width="3" height="11" fill="#32cd32"/>
<rect x="813" y="394" width="1" height="30" fill="#32cd32"/>
<rect x="812" y="410" width="3" height="4" fill="#32cd32"/>
<rect x="817" y="400" width="1" height="23" fill="#ff0000"/>
<rect x="816" y="403" width="3" height="11" fill="#ff0000"/>
<rect x="817" y="404" width="1" height="9" fill="#ff4500"/>
<rect x="821" y="379" width="1" height="44" fill="#ff0000"/>
<rect x="820" y="387" width="3" height="17" fill="#ff0000"/>
<rect x="821" y="388" width="1" height="15" fill="#ff4500"/>
<rect x="825" y="377" width="1" height="39" fill="#32cd32"/>
<rect x="824" y="387" width="3" height="19" fill="#32cd32"/>
<rect x="829" y="401" width="1" height="7" fill="#32cd32"/>
<rect x="828" y="405" width="3" height="3" fill="#32cd32"/>
<rect x="833" y="390" width="1" height="20" fill="#ff0000"/>
<rect x="832" y="393" width="3" height="11" fill="#ff0000"/>
<rect x="833" y="394" width="1" height="9" fill="#ff4500"/>
<rect x="837" y="380" width="1" height="40" fill="#32cd32"/>
<rect x="836" y="393" width="3" height="23" fill="#32cd32"/>
<rect x="841" y="402" width="1" height="41" fill="#32cd32"/>
<rect x="840" y="415" width="3" height="23" fill="#32cd32"/>
<rect x="845" y="405" width="1" height="43" fill="#ff0000"/>
<rect x="844" y="419" width="3" height="19" fill="#ff0000"/>
<rect x="845" y="420" width="1" height="17" fill="#ff4500"/>
<rect x="849" y="397" width="1" height="40" fill="#ff0000"/>
<rect x="848" y="399" width="3" height="21" fill="#ff0000"/>
<rect x="849" y="400" width="1" height="19" fill="#ff4500"/>
<rect x="853" y="396" width="1" height="7" fill="#32cd32"/>
<rect x="852" y="399" width="3" height="3" fill="#32cd32"/>
<rect x="857" y="383" width="1" height="27" fill="#ff0000"/>
<rect x="856" y="393" width="3" height="5" fill="#ff0000"/>
<rect x="857" y="394" width="1" height="3" fill="#ff4500"/>
<rect x="861" y="386" width="1" height="24" fill="#ff0000"/>
<rect x="860" y="387" width="3" height="8" fill="#ff0000"/>
<rect x="861" y="388" width="1" height="6" fill="#ff4500"/>
<rect x="865" y="385" width="1" height="37" fill="#32cd32"/>
<rect x="864" y="387" width="3" height="21" fill="#32cd32"/>
<rect x="869" y="373" width="1" height="39" fill="#ff0000"/>
<rect x="868" y="374" width="3" height="34" fill="#ff0000"/>
<rect x="869" y="375" width="1" height="32" fill="#ff4500"/>
<rect x="873" y="367" width="1" height="26" fill="#32cd32"/>
<rect x="872" y="375" width="3" height="8" fill="#32cd32"/>
<rect x="877" y="378" width="1" height="9" fill="#ff0000"/>
<rect x="876" y="379" width="3" height="3" fill="#ff0000"/>
<rect x="877" y="380" width="1" height="1" fill="#ff4500"/>
<rect x="881" y="351" width="1" height="39" fill="#ff0000"/>
<rect x="880" y="353" width="3" height="33" fill="#ff0000"/>
<rect x="881" y="354" width="1" height="31" fill="#ff4500"/>
<rect x="885" y="345" width="1" height="27" fill="#32cd32"/>
<rect x="884" y="353" width="3" height="3" fill="#32cd32"/>
<rect x="889" y="349" width="1" height="27" fill="#ff0000"/>
<rect x="888" y="352" width="3" height="4" fill="#ff0000"/>
<rect x="889" y="353" width="1" height="2" fill="#ff4500"/>
<rect x="893" y="325" width="1" height="28" fill="#ff0000"/>
<rect x="892" y="329" width="3" height="24" fill="#ff0000"/>
<rect x="893" y="330" width="1" height="22" fill="#ff4500"/>
<rect x="897" y="319" width="1" height="21" fill="#32cd32"/>
<rect x="896" y="329" width="3" height="4" fill="#32cd32"/>
<rect x="901" y="327" width="1" height="6" fill="#ff0000"/>
<rect x="900" y="328" width="3" height="5" fill="#ff0000"/>
<rect x="901" y="329" width="1" height="3" fill="#ff4500"/>
<rect x="905" y="324" width="1" height="26" fill="#32cd32"/>
<rect x="904" y="327" width="3" height="5" fill="#32cd32"/>
<rect x="909" y="298" width="1" height="38" fill="#ff0000"/>
<rect x="908" y="300" width="3" height="32" fill="#ff0000"/>
<rect x="909" y="301" width="1" height="30" fill="#ff4500"/>
<rect x="913" y="283" width="1" height="26" fill="#ff0000"/>
<rect x="912" y="285" width="3" height="17" fill="#ff0000"/>
<rect x="913" y="286" width="1" height="15" fill="#ff4500"/>
<rect x="917" y="269" width="1" height="34" fill="#32cd32"/>
<rect x="916" y="285" width="3" height="12" fill="#32cd32"/>
<rect x="921" y="285" width="1" height="29" fill="#32cd32"/>
<rect x="920" y="295" width="3" height="15" fill="#32cd32"/>
<rect x="925" y="303" width="1" height="9" fill="#ff0000"/>
<rect x="924" y="307" width="3" height="3" fill="#ff0000"/>
<rect x="925" y="308" width="1" height="1" fill="#ff4500"/>
</g>
</g>
<rect x="1169" y="180" width="38" height="11" fill="#ff0000"/>
<text x="1173" y="189" font-size="9.8" fill="#fff" textLength="33" lengthAdjust="spacingAndGlyphs" stroke="#fff" stroke-width="0.2">0.77200</text>
<rect x="1169" y="250" width="38" height="11" fill="#ff0000"/>
<text x="1173" y="259" font-size="9.8" fill="#fff" textLength="33" lengthAdjust="spacingAndGlyphs" stroke="#fff" stroke-width="0.2">0.75716</text>
<rect x="1169" y="302" width="38" height="11" fill="#000000"/>
<text x="1173" y="311" font-size="9.8" fill="#fff" textLength="33" lengthAdjust="spacingAndGlyphs" stroke="#fff" stroke-width="0.2">0.74642</text>
<rect x="1169" y="331" width="38" height="11" fill="#00ff00"/>
<text x="1173" y="340" font-size="9.8" fill="#fff" textLength="33" lengthAdjust="spacingAndGlyphs" stroke="#fff" stroke-width="0.2">0.74007</text>
<rect x="1169" y="406" width="38" height="11" fill="#0000ff"/>
<text x="1173" y="415" font-size="9.8" fill="#fff" textLength="33" lengthAdjust="spacingAndGlyphs" stroke="#fff" stroke-width="0.2">0.72411</text>
<rect x="1169" y="477" width="38" height="11" fill="#0000ff"/>
<text x="1173" y="486" font-size="9.8" fill="#fff" textLength="33" lengthAdjust="spacingAndGlyphs" stroke="#fff" stroke-width="0.2">0.70926</text>
<rect x="1169" y="481" width="38" height="11" fill="#ff0000"/>
<text x="1173" y="490" font-size="9.8" fill="#fff" textLength="33" lengthAdjust="spacingAndGlyphs" stroke="#fff" stroke-width="0.2">0.70820</text>
<path d="M8.5,39 L12,35 L15.5,39 Z" fill="#000"/>
<text x="21" y="40" font-size="9.4" fill="#000" textLength="65" lengthAdjust="spacingAndGlyphs" stroke="#000" stroke-width="0.3">AUDUSD,Daily</text>
<text x="92" y="40" font-size="9.4" fill="#000" textLength="32.4" lengthAdjust="spacingAndGlyphs" stroke="#000" stroke-width="0.3">0.74621</text>
<text x="128" y="40" font-size="9.4" fill="#000" textLength="32.4" lengthAdjust="spacingAndGlyphs" stroke="#000" stroke-width="0.3">0.74706</text>
<text x="164.2" y="40" font-size="9.4" fill="#000" textLength="32.4" lengthAdjust="spacingAndGlyphs" stroke="#000" stroke-width="0.3">0.74552</text>
<text x="200.2" y="40" font-size="9.4" fill="#000" textLength="32.4" lengthAdjust="spacingAndGlyphs" stroke="#000" stroke-width="0.3">0.74642</text>
<rect x="6" y="46" width="223" height="61" fill="#ffffff"/>
<rect x="8" y="72" width="109" height="33" fill="#b00000"/>
<rect x="9" y="73" width="107" height="31" fill="url(#gbox)"/>
<rect x="119" y="72" width="108" height="33" fill="#b00000"/>
<rect x="120" y="73" width="106" height="31" fill="url(#gbox)"/>
<rect x="8" y="48" width="52" height="25" fill="#b00000"/>
<rect x="9" y="49" width="50" height="24" fill="url(#gtab)"/>
<rect x="175" y="48" width="52" height="25" fill="#b00000"/>
<rect x="176" y="49" width="50" height="24" fill="url(#gtab)"/>
<rect x="12" y="71" width="44" height="1" fill="#8a0000"/>
<rect x="12" y="72" width="44" height="1" fill="#ee6a6a"/>
<rect x="179" y="71" width="44" height="1" fill="#8a0000"/>
<rect x="179" y="72" width="44" height="1" fill="#ee6a6a"/>
<text x="20.4" y="64" font-size="12.5" fill="#ffe8e8" textLength="25.5" lengthAdjust="spacingAndGlyphs">SELL</text>
<text x="188.5" y="64" font-size="12.5" fill="#ffe8e8" textLength="23" lengthAdjust="spacingAndGlyphs">BUY</text>
<rect x="62" y="48" width="111" height="22" fill="#a9acb4"/>
<rect x="63" y="49" width="109" height="20" fill="#ffffff"/>
<rect x="64" y="50" width="18" height="6" fill="#efefef"/>
<rect x="64" y="56" width="18" height="12" fill="#d9d9d9"/>
<rect x="153" y="50" width="18" height="6" fill="#efefef"/>
<rect x="153" y="56" width="18" height="12" fill="#d9d9d9"/>
<rect x="83" y="49" width="1" height="20" fill="#a9acb4"/>
<rect x="151" y="49" width="1" height="20" fill="#a9acb4"/>
<path d="M69.8,57 L75.2,57 L72.5,60 Z" fill="#4a5fc8"/>
<path d="M158.8,60 L164.2,60 L161.5,57 Z" fill="#4a5fc8"/>
<text x="147.8" y="63" font-size="11.5" fill="#000" text-anchor="end">3.00</text>
<text x="28" y="100" font-size="12.5" fill="#fff" textLength="24" lengthAdjust="spacingAndGlyphs" font-weight="bold">0.74</text>
<text x="55" y="100.2" font-size="34.2" fill="#fff" textLength="36.6" lengthAdjust="spacingAndGlyphs">64</text>
<text x="95.3" y="84" font-size="11.6" fill="#fff" font-weight="bold">5</text>
<text x="138.3" y="100" font-size="12.5" fill="#fff" textLength="24" lengthAdjust="spacingAndGlyphs" font-weight="bold">0.74</text>
<text x="165.8" y="100.2" font-size="34.2" fill="#fff" textLength="37.8" lengthAdjust="spacingAndGlyphs">66</text>
<text x="206" y="84" font-size="11.6" fill="#fff" font-weight="bold">2</text>
<g clip-path="url(#cmacd)" shape-rendering="crispEdges">
<rect x="4" y="520" width="3" height="13" fill="#c0c0c0"/>
<rect x="8" y="522" width="3" height="11" fill="#c0c0c0"/>
<rect x="12" y="526" width="3" height="7" fill="#c0c0c0"/>
<rect x="16" y="530" width="3" height="3" fill="#c0c0c0"/>
<rect x="20" y="533" width="3" height="3" fill="#c0c0c0"/>
<rect x="24" y="533" width="3" height="6" fill="#c0c0c0"/>
<rect x="28" y="533" width="3" height="8" fill="#c0c0c0"/>
<rect x="32" y="533" width="3" height="7" fill="#c0c0c0"/>
<rect x="36" y="533" width="3" height="6" fill="#c0c0c0"/>
<rect x="40" y="533" width="3" height="2" fill="#c0c0c0"/>
<rect x="44" y="532" width="3" height="1" fill="#c0c0c0"/>
<rect x="48" y="529" width="3" height="4" fill="#c0c0c0"/>
<rect x="52" y="525" width="3" height="8" fill="#c0c0c0"/>
<rect x="56" y="523" width="3" height="10" fill="#c0c0c0"/>
<rect x="60" y="522" width="3" height="11" fill="#c0c0c0"/>
<rect x="64" y="519" width="3" height="14" fill="#c0c0c0"/>
<rect x="68" y="517" width="3" height="16" fill="#c0c0c0"/>
<rect x="72" y="518" width="3" height="15" fill="#c0c0c0"/>
<rect x="76" y="519" width="3" height="14" fill="#c0c0c0"/>
<rect x="80" y="514" width="3" height="19" fill="#c0c0c0"/>
<rect x="84" y="510" width="3" height="23" fill="#c0c0c0"/>
<rect x="88" y="505" width="3" height="28" fill="#c0c0c0"/>
<rect x="92" y="502" width="3" height="31" fill="#c0c0c0"/>
<rect x="96" y="501" width="3" height="32" fill="#c0c0c0"/>
<rect x="100" y="502" width="3" height="31" fill="#c0c0c0"/>
<rect x="104" y="503" width="3" height="30" fill="#c0c0c0"/>
<rect x="108" y="511" width="3" height="22" fill="#c0c0c0"/>
<rect x="112" y="514" width="3" height="19" fill="#c0c0c0"/>
<rect x="116" y="515" width="3" height="18" fill="#c0c0c0"/>
<rect x="120" y="517" width="3" height="16" fill="#c0c0c0"/>
<rect x="124" y="518" width="3" height="15" fill="#c0c0c0"/>
<rect x="128" y="526" width="3" height="7" fill="#c0c0c0"/>
<rect x="132" y="531" width="3" height="2" fill="#c0c0c0"/>
<rect x="136" y="533" width="3" height="4" fill="#c0c0c0"/>
<rect x="140" y="533" width="3" height="6" fill="#c0c0c0"/>
<rect x="144" y="533" width="3" height="7" fill="#c0c0c0"/>
<rect x="148" y="533" width="3" height="6" fill="#c0c0c0"/>
<rect x="152" y="533" width="3" height="5" fill="#c0c0c0"/>
<rect x="156" y="533" width="3" height="4" fill="#c0c0c0"/>
<rect x="160" y="533" width="3" height="5" fill="#c0c0c0"/>
<rect x="164" y="533" width="3" height="3" fill="#c0c0c0"/>
<rect x="168" y="533" width="3" height="6" fill="#c0c0c0"/>
<rect x="172" y="533" width="3" height="3" fill="#c0c0c0"/>
<rect x="176" y="533" width="3" height="3" fill="#c0c0c0"/>
<rect x="180" y="533" width="3" height="2" fill="#c0c0c0"/>
<rect x="184" y="533" width="3" height="2" fill="#c0c0c0"/>
<rect x="188" y="533" width="3" height="5" fill="#c0c0c0"/>
<rect x="192" y="533" width="3" height="10" fill="#c0c0c0"/>
<rect x="196" y="533" width="3" height="17" fill="#c0c0c0"/>
<rect x="200" y="533" width="3" height="19" fill="#c0c0c0"/>
<rect x="204" y="533" width="3" height="20" fill="#c0c0c0"/>
<rect x="208" y="533" width="3" height="20" fill="#c0c0c0"/>
<rect x="212" y="533" width="3" height="22" fill="#c0c0c0"/>
<rect x="216" y="533" width="3" height="23" fill="#c0c0c0"/>
<rect x="220" y="533" width="3" height="23" fill="#c0c0c0"/>
<rect x="224" y="533" width="3" height="23" fill="#c0c0c0"/>
<rect x="228" y="533" width="3" height="23" fill="#c0c0c0"/>
<rect x="232" y="533" width="3" height="22" fill="#c0c0c0"/>
<rect x="236" y="533" width="3" height="18" fill="#c0c0c0"/>
<rect x="240" y="533" width="3" height="18" fill="#c0c0c0"/>
<rect x="244" y="533" width="3" height="16" fill="#c0c0c0"/>
<rect x="248" y="533" width="3" height="16" fill="#c0c0c0"/>
<rect x="252" y="533" width="3" height="15" fill="#c0c0c0"/>
<rect x="256" y="533" width="3" height="15" fill="#c0c0c0"/>
<rect x="260" y="533" width="3" height="14" fill="#c0c0c0"/>
<rect x="264" y="533" width="3" height="9" fill="#c0c0c0"/>
<rect x="268" y="533" width="3" height="3" fill="#c0c0c0"/>
<rect x="272" y="532" width="3" height="1" fill="#c0c0c0"/>
<rect x="276" y="529" width="3" height="4" fill="#c0c0c0"/>
<rect x="280" y="526" width="3" height="7" fill="#c0c0c0"/>
<rect x="284" y="524" width="3" height="9" fill="#c0c0c0"/>
<rect x="288" y="522" width="3" height="11" fill="#c0c0c0"/>
<rect x="292" y="522" width="3" height="11" fill="#c0c0c0"/>
<rect x="296" y="522" width="3" height="11" fill="#c0c0c0"/>
<rect x="300" y="521" width="3" height="12" fill="#c0c0c0"/>
<rect x="304" y="518" width="3" height="15" fill="#c0c0c0"/>
<rect x="308" y="517" width="3" height="16" fill="#c0c0c0"/>
<rect x="312" y="517" width="3" height="16" fill="#c0c0c0"/>
<rect x="316" y="518" width="3" height="15" fill="#c0c0c0"/>
<rect x="320" y="521" width="3" height="12" fill="#c0c0c0"/>
<rect x="324" y="523" width="3" height="10" fill="#c0c0c0"/>
<rect x="328" y="523" width="3" height="10" fill="#c0c0c0"/>
<rect x="332" y="526" width="3" height="7" fill="#c0c0c0"/>
<rect x="336" y="526" width="3" height="7" fill="#c0c0c0"/>
<rect x="340" y="525" width="3" height="8" fill="#c0c0c0"/>
<rect x="344" y="519" width="3" height="14" fill="#c0c0c0"/>
<rect x="348" y="516" width="3" height="17" fill="#c0c0c0"/>
<rect x="352" y="513" width="3" height="20" fill="#c0c0c0"/>
<rect x="356" y="511" width="3" height="22" fill="#c0c0c0"/>
<rect x="360" y="516" width="3" height="17" fill="#c0c0c0"/>
<rect x="364" y="520" width="3" height="13" fill="#c0c0c0"/>
<rect x="368" y="521" width="3" height="12" fill="#c0c0c0"/>
<rect x="372" y="522" width="3" height="11" fill="#c0c0c0"/>
<rect x="376" y="523" width="3" height="10" fill="#c0c0c0"/>
<rect x="380" y="523" width="3" height="10" fill="#c0c0c0"/>
<rect x="384" y="525" width="3" height="8" fill="#c0c0c0"/>
<rect x="388" y="526" width="3" height="7" fill="#c0c0c0"/>
<rect x="392" y="528" width="3" height="5" fill="#c0c0c0"/>
<rect x="396" y="530" width="3" height="3" fill="#c0c0c0"/>
<rect x="400" y="531" width="3" height="2" fill="#c0c0c0"/>
<rect x="404" y="532" width="3" height="1" fill="#c0c0c0"/>
<rect x="408" y="533" width="3" height="1" fill="#c0c0c0"/>
<rect x="412" y="533" width="3" height="2" fill="#c0c0c0"/>
<rect x="416" y="533" width="3" height="4" fill="#c0c0c0"/>
<rect x="420" y="533" width="3" height="5" fill="#c0c0c0"/>
<rect x="424" y="533" width="3" height="5" fill="#c0c0c0"/>
<rect x="428" y="533" width="3" height="3" fill="#c0c0c0"/>
<rect x="432" y="533" width="3" height="2" fill="#c0c0c0"/>
<rect x="436" y="533" width="3" height="7" fill="#c0c0c0"/>
<rect x="440" y="533" width="3" height="6" fill="#c0c0c0"/>
<rect x="444" y="533" width="3" height="5" fill="#c0c0c0"/>
<rect x="448" y="533" width="3" height="3" fill="#c0c0c0"/>
<rect x="452" y="533" width="3" height="3" fill="#c0c0c0"/>
<rect x="456" y="533" width="3" height="3" fill="#c0c0c0"/>
<rect x="460" y="533" width="3" height="2" fill="#c0c0c0"/>
<rect x="464" y="533" width="3" height="3" fill="#c0c0c0"/>
<rect x="468" y="533" width="3" height="5" fill="#c0c0c0"/>
<rect x="472" y="533" width="3" height="6" fill="#c0c0c0"/>
<rect x="476" y="533" width="3" height="8" fill="#c0c0c0"/>
<rect x="480" y="533" width="3" height="7" fill="#c0c0c0"/>
<rect x="484" y="533" width="3" height="15" fill="#c0c0c0"/>
<rect x="488" y="533" width="3" height="23" fill="#c0c0c0"/>
<rect x="492" y="533" width="3" height="29" fill="#c0c0c0"/>
<rect x="496" y="533" width="3" height="32" fill="#c0c0c0"/>
<rect x="500" y="533" width="3" height="34" fill="#c0c0c0"/>
<rect x="504" y="533" width="3" height="32" fill="#c0c0c0"/>
<rect x="508" y="533" width="3" height="31" fill="#c0c0c0"/>
<rect x="512" y="533" width="3" height="29" fill="#c0c0c0"/>
<rect x="516" y="533" width="3" height="28" fill="#c0c0c0"/>
<rect x="520" y="533" width="3" height="27" fill="#c0c0c0"/>
<rect x="524" y="533" width="3" height="28" fill="#c0c0c0"/>
<rect x="528" y="533" width="3" height="30" fill="#c0c0c0"/>
<rect x="532" y="533" width="3" height="33" fill="#c0c0c0"/>
<rect x="536" y="533" width="3" height="33" fill="#c0c0c0"/>
<rect x="540" y="533" width="3" height="31" fill="#c0c0c0"/>
<rect x="544" y="533" width="3" height="29" fill="#c0c0c0"/>
<rect x="548" y="533" width="3" height="29" fill="#c0c0c0"/>
<rect x="552" y="533" width="3" height="29" fill="#c0c0c0"/>
<rect x="556" y="533" width="3" height="32" fill="#c0c0c0"/>
<rect x="560" y="533" width="3" height="30" fill="#c0c0c0"/>
<rect x="564" y="533" width="3" height="30" fill="#c0c0c0"/>
<rect x="568" y="533" width="3" height="28" fill="#c0c0c0"/>
<rect x="572" y="533" width="3" height="28" fill="#c0c0c0"/>
<rect x="576" y="533" width="3" height="27" fill="#c0c0c0"/>
<rect x="580" y="533" width="3" height="28" fill="#c0c0c0"/>
<rect x="584" y="533" width="3" height="28" fill="#c0c0c0"/>
<rect x="588" y="533" width="3" height="31" fill="#c0c0c0"/>
<rect x="592" y="533" width="3" height="34" fill="#c0c0c0"/>
<rect x="596" y="533" width="3" height="37" fill="#c0c0c0"/>
<rect x="600" y="533" width="3" height="38" fill="#c0c0c0"/>
<rect x="604" y="533" width="3" height="37" fill="#c0c0c0"/>
<rect x="608" y="533" width="3" height="37" fill="#c0c0c0"/>
<rect x="612" y="533" width="3" height="36" fill="#c0c0c0"/>
<rect x="616" y="533" width="3" height="33" fill="#c0c0c0"/>
<rect x="620" y="533" width="3" height="32" fill="#c0c0c0"/>
<rect x="624" y="533" width="3" height="32" fill="#c0c0c0"/>
<rect x="628" y="533" width="3" height="29" fill="#c0c0c0"/>
<rect x="632" y="533" width="3" height="28" fill="#c0c0c0"/>
<rect x="636" y="533" width="3" height="28" fill="#c0c0c0"/>
<rect x="640" y="533" width="3" height="27" fill="#c0c0c0"/>
<rect x="644" y="533" width="3" height="24" fill="#c0c0c0"/>
<rect x="648" y="533" width="3" height="22" fill="#c0c0c0"/>
<rect x="652" y="533" width="3" height="19" fill="#c0c0c0"/>
<rect x="656" y="533" width="3" height="19" fill="#c0c0c0"/>
<rect x="660" y="533" width="3" height="19" fill="#c0c0c0"/>
<rect x="664" y="533" width="3" height="19" fill="#c0c0c0"/>
<rect x="668" y="533" width="3" height="19" fill="#c0c0c0"/>
<rect x="672" y="533" width="3" height="17" fill="#c0c0c0"/>
<rect x="676" y="533" width="3" height="16" fill="#c0c0c0"/>
<rect x="680" y="533" width="3" height="15" fill="#c0c0c0"/>
<rect x="684" y="533" width="3" height="13" fill="#c0c0c0"/>
<rect x="688" y="533" width="3" height="14" fill="#c0c0c0"/>
<rect x="692" y="533" width="3" height="18" fill="#c0c0c0"/>
<rect x="696" y="533" width="3" height="22" fill="#c0c0c0"/>
<rect x="700" y="533" width="3" height="28" fill="#c0c0c0"/>
<rect x="704" y="533" width="3" height="34" fill="#c0c0c0"/>
<rect x="708" y="533" width="3" height="38" fill="#c0c0c0"/>
<rect x="712" y="533" width="3" height="37" fill="#c0c0c0"/>
<rect x="716" y="533" width="3" height="34" fill="#c0c0c0"/>
<rect x="720" y="533" width="3" height="31" fill="#c0c0c0"/>
<rect x="724" y="533" width="3" height="28" fill="#c0c0c0"/>
<rect x="728" y="533" width="3" height="24" fill="#c0c0c0"/>
<rect x="732" y="533" width="3" height="20" fill="#c0c0c0"/>
<rect x="736" y="533" width="3" height="17" fill="#c0c0c0"/>
<rect x="740" y="533" width="3" height="14" fill="#c0c0c0"/>
<rect x="744" y="533" width="3" height="9" fill="#c0c0c0"/>
<rect x="748" y="533" width="3" height="3" fill="#c0c0c0"/>
<rect x="752" y="529" width="3" height="4" fill="#c0c0c0"/>
<rect x="756" y="523" width="3" height="10" fill="#c0c0c0"/>
<rect x="760" y="520" width="3" height="13" fill="#c0c0c0"/>
<rect x="764" y="519" width="3" height="14" fill="#c0c0c0"/>
<rect x="768" y="520" width="3" height="13" fill="#c0c0c0"/>
<rect x="772" y="521" width="3" height="12" fill="#c0c0c0"/>
<rect x="776" y="522" width="3" height="11" fill="#c0c0c0"/>
<rect x="780" y="523" width="3" height="10" fill="#c0c0c0"/>
<rect x="784" y="523" width="3" height="10" fill="#c0c0c0"/>
<rect x="788" y="526" width="3" height="7" fill="#c0c0c0"/>
<rect x="792" y="528" width="3" height="5" fill="#c0c0c0"/>
<rect x="796" y="532" width="3" height="1" fill="#c0c0c0"/>
<rect x="800" y="533" width="3" height="3" fill="#c0c0c0"/>
<rect x="804" y="533" width="3" height="6" fill="#c0c0c0"/>
<rect x="808" y="533" width="3" height="9" fill="#c0c0c0"/>
<rect x="812" y="533" width="3" height="12" fill="#c0c0c0"/>
<rect x="816" y="533" width="3" height="13" fill="#c0c0c0"/>
<rect x="820" y="533" width="3" height="12" fill="#c0c0c0"/>
<rect x="824" y="533" width="3" height="13" fill="#c0c0c0"/>
<rect x="828" y="533" width="3" height="14" fill="#c0c0c0"/>
<rect x="832" y="533" width="3" height="13" fill="#c0c0c0"/>
<rect x="836" y="533" width="3" height="14" fill="#c0c0c0"/>
<rect x="840" y="533" width="3" height="17" fill="#c0c0c0"/>
<rect x="844" y="533" width="3" height="18" fill="#c0c0c0"/>
<rect x="848" y="533" width="3" height="16" fill="#c0c0c0"/>
<rect x="852" y="533" width="3" height="14" fill="#c0c0c0"/>
<rect x="856" y="533" width="3" height="12" fill="#c0c0c0"/>
<rect x="860" y="533" width="3" height="10" fill="#c0c0c0"/>
<rect x="864" y="533" width="3" height="10" fill="#c0c0c0"/>
<rect x="868" y="533" width="3" height="7" fill="#c0c0c0"/>
<rect x="872" y="533" width="3" height="5" fill="#c0c0c0"/>
<rect x="876" y="533" width="3" height="3" fill="#c0c0c0"/>
<rect x="880" y="531" width="3" height="2" fill="#c0c0c0"/>
<rect x="884" y="528" width="3" height="5" fill="#c0c0c0"/>
<rect x="888" y="525" width="3" height="8" fill="#c0c0c0"/>
<rect x="892" y="521" width="3" height="12" fill="#c0c0c0"/>
<rect x="896" y="518" width="3" height="15" fill="#c0c0c0"/>
<rect x="900" y="516" width="3" height="17" fill="#c0c0c0"/>
<rect x="904" y="514" width="3" height="19" fill="#c0c0c0"/>
<rect x="908" y="510" width="3" height="23" fill="#c0c0c0"/>
<rect x="912" y="506" width="3" height="27" fill="#c0c0c0"/>
<rect x="916" y="504" width="3" height="29" fill="#c0c0c0"/>
<rect x="920" y="504" width="3" height="29" fill="#c0c0c0"/>
<rect x="924" y="504" width="3" height="29" fill="#c0c0c0"/>
<polyline points="5.0,511.5 15.0,516.0 25.0,523.5 35.0,529.8 42.0,533.5 45.0,535.0 53.0,535.3 60.0,532.5 70.0,527.6 80.0,523.3 90.0,517.4 100.0,511.0 107.0,506.5 120.0,506.6 125.0,508.0 131.0,511.5 136.0,517.0 143.0,524.5 150.0,529.0 158.0,532.5 165.0,535.0 169.0,536.0 178.0,536.0 181.0,535.0 194.0,535.0 198.0,537.0 203.0,539.0 208.0,541.5 216.0,545.6 222.0,550.0 226.0,552.4 232.0,554.5 238.0,554.5 246.0,553.5 256.0,551.0 266.0,548.7 273.0,545.0 280.0,540.4 287.0,536.0 293.0,532.0 298.0,528.5 305.0,525.2 310.0,522.0 316.0,520.5 335.0,520.5 340.0,522.5 346.0,522.5 351.0,521.5 358.0,520.5 361.0,519.5 371.0,519.5 372.0,518.4 383.0,518.4 387.0,519.5 392.0,522.5 398.0,524.5 403.0,526.5 409.0,528.0 414.0,529.5 419.0,532.0 425.0,533.0 431.0,534.8 440.0,535.5 446.0,536.8 453.0,536.8 456.0,536.0 479.0,536.3 482.0,537.5 486.0,538.6 490.0,541.0 495.0,545.0 500.0,549.0 503.0,551.5 508.0,554.0 512.0,557.0 515.0,559.5 519.0,561.0 524.0,562.3 530.0,562.5 555.0,562.5 557.0,563.5 566.0,563.5 568.0,562.5 575.0,562.5 576.0,561.5 595.0,561.5 600.0,563.0 605.0,564.5 610.0,566.0 615.0,567.5 626.0,567.5 632.0,565.5 640.0,563.0 648.0,559.5 656.0,556.5 664.0,554.0 670.0,552.5 677.0,551.8 684.0,549.5 698.0,549.5 703.0,551.0 708.0,553.0 713.0,556.0 718.0,559.0 723.0,562.0 728.0,563.5 733.0,563.5 738.0,561.0 744.0,557.5 750.0,552.0 757.0,545.5 760.0,542.0 767.0,536.0 772.0,532.5 776.0,528.5 781.0,525.5 785.0,522.5 795.0,522.3 798.0,524.5 803.0,525.5 808.0,529.0 813.0,532.0 817.0,535.5 822.0,538.0 826.0,539.3 832.0,542.0 838.0,544.0 844.0,545.8 852.0,546.0 858.0,547.0 866.0,546.5 872.0,545.0 878.0,543.5 883.0,541.5 888.0,538.5 894.0,535.5 900.0,531.0 906.0,527.0 912.0,522.0 918.0,517.5 925.0,511.5" fill="none" stroke="#ff0000" stroke-width="1"/>
</g>
<text x="9" y="503.3" font-size="9.4" fill="#000" textLength="66.2" lengthAdjust="spacingAndGlyphs" stroke="#000" stroke-width="0.3">MACD(12,26,9)</text>
<text x="78.1" y="503.3" font-size="9.4" fill="#000" textLength="37.2" lengthAdjust="spacingAndGlyphs" stroke="#000" stroke-width="0.3">0.004872</text>
<text x="118.9" y="503.3" font-size="9.4" fill="#000" textLength="38.1" lengthAdjust="spacingAndGlyphs" stroke="#000" stroke-width="0.3">0.003719</text>
<rect x="1168" y="492" width="2" height="1" fill="#000"/>
<rect x="1168" y="533" width="2" height="1" fill="#000"/>
<rect x="1168" y="573" width="2" height="1" fill="#000"/>
<text x="1171" y="501" font-size="9.4" fill="#000" textLength="38.3" lengthAdjust="spacingAndGlyphs" stroke="#000" stroke-width="0.3">0.007015</text>
<text x="1171" y="537" font-size="9.4" fill="#000" textLength="18" lengthAdjust="spacingAndGlyphs" stroke="#000" stroke-width="0.3">0.00</text>
<text x="1170.8" y="571" font-size="9.4" fill="#000" textLength="37.5" lengthAdjust="spacingAndGlyphs" stroke="#000" stroke-width="0.3">-0.00692</text>
<g clip-path="url(#crsi)">
<line x1="6" y1="603.5" x2="1167" y2="603.5" stroke="#b8b8b8" stroke-width="1" stroke-dasharray="3,3"/>
<line x1="6" y1="638.5" x2="1167" y2="638.5" stroke="#b8b8b8" stroke-width="1" stroke-dasharray="3,3"/>
<g shape-rendering="crispEdges">
<polyline points="5.0,622.4 9.3,622.4 13.0,625.0 17.2,627.4 21.5,631.3 25.5,626.7 29.2,628.5 33.2,621.5 37.1,620.3 42.4,615.2 47.7,613.2 53.0,611.8 58.4,612.5 61.7,612.2 66.3,609.4 70.0,610.8 73.6,615.5 77.5,616.5 81.2,605.6 86.2,605.2 90.2,603.1 95.5,602.5 101.5,599.7 103.4,610.0 105.4,623.7 109.4,626.3 113.4,620.3 117.4,617.1 121.4,618.2 125.3,619.2 129.3,627.7 133.3,626.2 137.3,628.3 141.2,625.0 145.2,623.4 149.2,619.4 153.2,621.3 159.6,620.5 161.6,622.3 164.3,621.3 167.3,622.5 169.6,624.5 173.3,617.4 177.5,621.3 185.7,621.3 190.0,626.0 197.5,634.4 201.3,628.6 205.0,628.6 209.0,626.5 213.5,629.7 217.0,628.6 221.0,629.5 225.0,627.5 229.6,629.2 233.0,622.5 237.0,622.5 241.0,625.5 245.0,624.5 249.5,625.5 257.4,626.5 261.1,625.5 265.0,613.0 269.0,611.5 273.0,613.5 277.0,613.5 281.0,611.4 285.0,613.4 289.0,612.5 293.1,616.5 297.3,615.2 301.3,613.5 305.4,608.3 309.4,612.3 313.3,613.3 317.0,615.0 321.0,621.0 325.5,623.3 329.5,616.5 333.5,624.5 337.5,618.3 341.5,616.0 345.5,608.6 349.5,610.4 353.4,608.5 357.4,612.3 361.3,622.2 365.3,623.3 369.3,619.7 373.2,618.3 377.2,620.4 381.2,618.3 385.2,621.4 389.2,619.3 393.0,623.2 397.0,623.2 401.0,622.3 409.0,622.3 413.0,623.5 417.0,626.0 421.0,626.0 425.0,621.5 429.0,618.8 433.0,620.5 437.0,631.3 441.0,620.5 445.0,620.5 449.0,618.6 453.0,621.4 457.0,622.0 461.0,619.3 465.0,625.5 469.0,624.5 473.0,623.2 477.6,627.5 481.4,623.3 485.3,636.2 489.2,638.8 493.2,638.8 497.1,634.5 501.0,634.5 505.0,627.6 509.0,628.6 513.0,626.4 517.0,627.8 521.0,628.5 525.0,632.5 529.0,634.5 533.5,636.5 537.0,632.5 541.0,628.6 545.0,628.6 549.0,631.5 553.0,632.5 557.5,635.5 561.0,630.0 565.0,628.6 569.0,628.6 573.0,630.5 577.0,630.5 581.0,633.5 585.0,636.5 589.0,636.5 593.0,641.2 597.0,642.5 601.0,636.5 605.0,635.3 613.0,635.3 617.0,631.4 621.0,633.4 625.3,635.2 629.3,626.5 633.2,631.4 637.2,632.5 641.2,628.6 645.1,625.5 649.2,625.5 653.2,621.4 657.1,627.5 661.1,628.6 665.0,629.2 669.0,628.5 673.4,624.8 677.3,627.5 681.3,622.4 685.3,623.2 689.2,627.1 693.2,634.7 697.2,636.5 701.2,640.5 705.2,643.5 709.2,642.2 713.1,632.5 717.1,626.5 721.1,625.5 725.0,626.5 729.0,620.5 733.0,620.5 737.0,621.6 741.0,620.4 745.0,613.5 749.0,611.0 753.0,608.0 757.0,607.2 761.0,609.2 765.0,614.2 769.0,617.5 773.0,617.2 777.0,619.3 781.0,619.5 785.0,618.3 789.0,623.3 793.0,624.5 797.0,628.3 801.0,629.4 805.0,630.4 809.0,632.5 813.0,633.3 817.0,628.6 821.0,623.4 825.0,628.6 829.0,628.6 833.4,624.8 837.3,629.6 841.3,634.2 845.3,629.1 849.2,623.4 853.2,623.4 857.2,621.5 861.2,619.4 865.1,624.4 869.1,617.3 873.0,618.3 877.0,618.3 881.0,612.7 885.0,612.5 889.0,612.5 893.0,607.6 897.0,608.4 901.0,607.3 905.0,608.3 909.0,602.5 913.0,600.3 917.0,603.6 921.0,609.4 925.0,609.0" fill="none" stroke="#1e90ff" stroke-width="1"/>
</g></g>
<text x="9.3" y="589" font-size="9.4" fill="#000" textLength="67.4" lengthAdjust="spacingAndGlyphs" stroke="#000" stroke-width="0.3">RSI(14) 63.8964</text>
<rect x="1168" y="578" width="2" height="1" fill="#000"/>
<text x="1171.2" y="587" font-size="9.4" fill="#000" textLength="15.5" lengthAdjust="spacingAndGlyphs" stroke="#000" stroke-width="0.3">100</text>
<text x="1170.6" y="608" font-size="9.4" fill="#000" textLength="10" lengthAdjust="spacingAndGlyphs" stroke="#000" stroke-width="0.3">70</text>
<text x="1170.5" y="643" font-size="9.4" fill="#000" textLength="10" lengthAdjust="spacingAndGlyphs" stroke="#000" stroke-width="0.3">30</text>
<text x="1171.4" y="661" font-size="9.4" fill="#000" textLength="5" lengthAdjust="spacingAndGlyphs" stroke="#000" stroke-width="0.3">0</text>
<rect x="5" y="665" width="1" height="3" fill="#000"/>
<text transform="translate(4,677) scale(0.97,1)" font-size="9.6" fill="#000" stroke="#000" stroke-width="0.3">28 Jan 2021</text>
<rect x="69" y="665" width="1" height="3" fill="#000"/>
<text transform="translate(68,677) scale(0.97,1)" font-size="9.6" fill="#000" stroke="#000" stroke-width="0.3">16 Feb 2021</text>
<rect x="133" y="665" width="1" height="3" fill="#000"/>
<text transform="translate(132,677) scale(0.97,1)" font-size="9.6" fill="#000" stroke="#000" stroke-width="0.3">6 Mar 2021</text>
<rect x="197" y="665" width="1" height="3" fill="#000"/>
<text transform="translate(196,677) scale(0.97,1)" font-size="9.6" fill="#000" stroke="#000" stroke-width="0.3">25 Mar 2021</text>
<rect x="261" y="665" width="1" height="3" fill="#000"/>
<text transform="translate(260,677) scale(0.97,1)" font-size="9.6" fill="#000" stroke="#000" stroke-width="0.3">13 Apr 2021</text>
<rect x="325" y="665" width="1" height="3" fill="#000"/>
<text transform="translate(324,677) scale(0.97,1)" font-size="9.6" fill="#000" stroke="#000" stroke-width="0.3">1 May 2021</text>
<rect x="389" y="665" width="1" height="3" fill="#000"/>
<text transform="translate(388,677) scale(0.97,1)" font-size="9.6" fill="#000" stroke="#000" stroke-width="0.3">20 May 2021</text>
<rect x="453" y="665" width="1" height="3" fill="#000"/>
<text transform="translate(452,677) scale(0.97,1)" font-size="9.6" fill="#000" stroke="#000" stroke-width="0.3">8 Jun 2021</text>
<rect x="517" y="665" width="1" height="3" fill="#000"/>
<text transform="translate(516,677) scale(0.97,1)" font-size="9.6" fill="#000" stroke="#000" stroke-width="0.3">26 Jun 2021</text>
<rect x="581" y="665" width="1" height="3" fill="#000"/>
<text transform="translate(580,677) scale(0.97,1)" font-size="9.6" fill="#000" stroke="#000" stroke-width="0.3">15 Jul 2021</text>
<rect x="645" y="665" width="1" height="3" fill="#000"/>
<text transform="translate(644,677) scale(0.97,1)" font-size="9.6" fill="#000" stroke="#000" stroke-width="0.3">3 Aug 2021</text>
<rect x="709" y="665" width="1" height="3" fill="#000"/>
<text transform="translate(708,677) scale(0.97,1)" font-size="9.6" fill="#000" stroke="#000" stroke-width="0.3">21 Aug 2021</text>
<rect x="773" y="665" width="1" height="3" fill="#000"/>
<text transform="translate(772,677) scale(0.97,1)" font-size="9.6" fill="#000" stroke="#000" stroke-width="0.3">9 Sep 2021</text>
<rect x="837" y="665" width="1" height="3" fill="#000"/>
<text transform="translate(836,677) scale(0.97,1)" font-size="9.6" fill="#000" stroke="#000" stroke-width="0.3">28 Sep 2021</text>
<rect x="901" y="665" width="1" height="3" fill="#000"/>
<text transform="translate(900,677) scale(0.97,1)" font-size="9.6" fill="#000" stroke="#000" stroke-width="0.3">16 Oct 2021</text>
<rect x="110" y="687" width="104" height="19" fill="#000"/>
<rect x="111" y="687" width="102" height="18" fill="#ffffff"/>
<text x="18.7" y="702" font-size="12" fill="#6a6a6a" textLength="79.1" lengthAdjust="spacingAndGlyphs">EURUSD,Daily</text>
<text x="121.1" y="702" font-size="12" fill="#000" textLength="82.1" lengthAdjust="spacingAndGlyphs">AUDUSD,Daily</text>
<text x="224.6" y="702" font-size="12" fill="#6a6a6a" textLength="66.4" lengthAdjust="spacingAndGlyphs">USDCHF,H4</text>
<text x="313.7" y="702" font-size="12" fill="#6a6a6a" textLength="80.3" lengthAdjust="spacingAndGlyphs">USDCAD,Daily</text>
<text x="416.9" y="702" font-size="12" fill="#6a6a6a" textLength="82.1" lengthAdjust="spacingAndGlyphs">USDCNH,Daily</text>
<text x="522.6" y="702" font-size="12" fill="#6a6a6a" textLength="51.5" lengthAdjust="spacingAndGlyphs">UKOil,H4</text>
<text x="596.2" y="702" font-size="12" fill="#6a6a6a" textLength="46.5" lengthAdjust="spacingAndGlyphs">DJ30,H1</text>
<text x="666.6" y="702" font-size="12" fill="#6a6a6a" textLength="51" lengthAdjust="spacingAndGlyphs">USDX,H1</text>
<text x="741.2" y="702" font-size="12" fill="#6a6a6a" textLength="68.9" lengthAdjust="spacingAndGlyphs">XAUUSD,H4</text>
<text x="834.4" y="702" font-size="12" fill="#6a6a6a" textLength="67.2" lengthAdjust="spacingAndGlyphs">GBPUSD,H1</text>
<text x="925.7" y="702" font-size="12" fill="#6a6a6a" textLength="77.6" lengthAdjust="spacingAndGlyphs">USDX,Weekly</text>
<rect x="302" y="690" width="1" height="14" fill="#505050"/>
<rect x="406" y="690" width="1" height="14" fill="#505050"/>
<rect x="510" y="690" width="1" height="14" fill="#505050"/>
<rect x="586" y="690" width="1" height="14" fill="#505050"/>
<rect x="654" y="690" width="1" height="14" fill="#505050"/>
<rect x="730" y="690" width="1" height="14" fill="#505050"/>
<rect x="822" y="690" width="1" height="14" fill="#505050"/>
<rect x="914" y="690" width="1" height="14" fill="#505050"/>
<rect x="1014" y="690" width="1" height="14" fill="#505050"/>
<path d="M1186,693 L1186,699 L1183,696 Z" fill="#8c8c8c"/>
<path d="M1202,693 L1202,699 L1205,696 Z" fill="#8c8c8c"/>
</svg></body></html>
